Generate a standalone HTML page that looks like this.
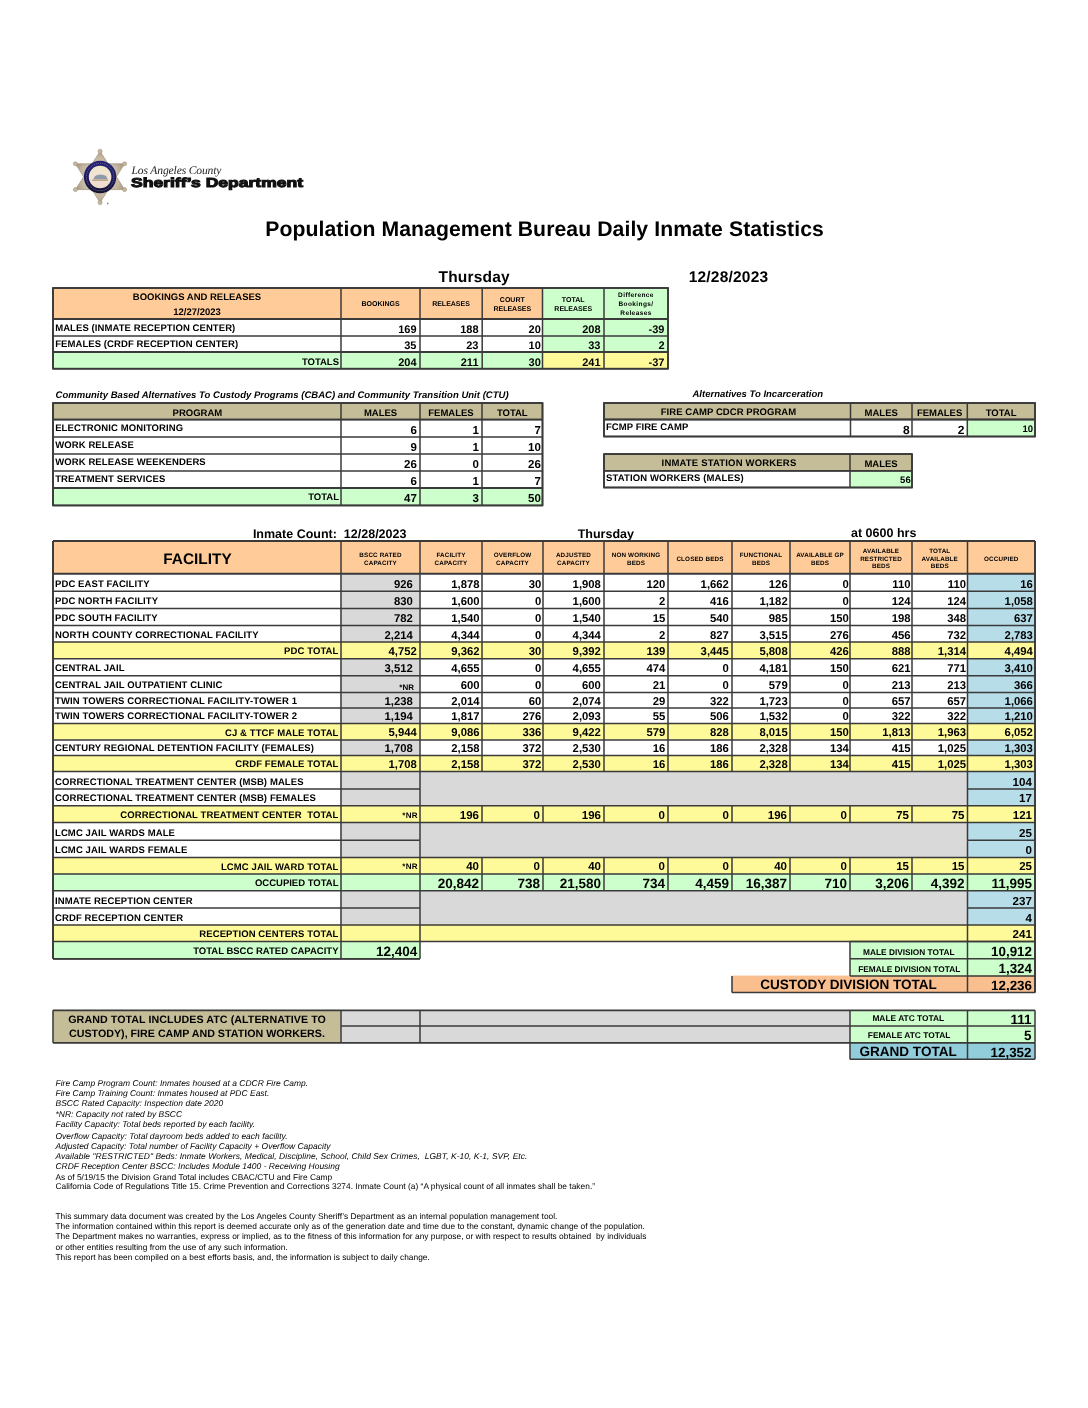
<!DOCTYPE html>
<html><head><meta charset="utf-8"><title>Population Management Bureau Daily Inmate Statistics</title>
<style>
html,body{margin:0;padding:0;background:#fff;}
body{width:1088px;height:1408px;overflow:hidden;font-family:"Liberation Sans", sans-serif;}
svg{display:block;will-change:transform;}
</style></head><body>
<svg width="1088" height="1408" viewBox="0 0 1088 1408" text-rendering="geometricPrecision">
<defs><radialGradient id="sg" cx="50%" cy="50%" r="55%"><stop offset="0" stop-color="#ddd3c1"/><stop offset="0.7" stop-color="#c5b8a2"/><stop offset="1" stop-color="#a3937c"/></radialGradient><linearGradient id="rg" x1="0" y1="0" x2="0" y2="1"><stop offset="0" stop-color="#27237a"/><stop offset="0.55" stop-color="#1d1a5c"/><stop offset="1" stop-color="#15132e"/></linearGradient><linearGradient id="dg" x1="0" y1="0" x2="0" y2="1"><stop offset="0" stop-color="#efe6c8"/><stop offset="0.5" stop-color="#f2e3d6"/><stop offset="1" stop-color="#f0d9cc"/></linearGradient></defs>
<polygon points="100.10,151.30 92.04,163.80 75.40,163.80 83.67,176.78 75.40,189.60 91.82,189.60 100.10,202.60 108.31,189.60 124.60,189.60 116.40,176.78 124.60,163.80 108.10,163.80" fill="url(#sg)" stroke="#a3937a" stroke-width="0.7" stroke-linejoin="round"/>
<circle cx="100.10" cy="151.30" r="2.1" fill="#c4b79f" stroke="#9d8f77" stroke-width="0.5"/>
<circle cx="124.60" cy="163.80" r="2.1" fill="#c4b79f" stroke="#9d8f77" stroke-width="0.5"/>
<circle cx="124.60" cy="189.60" r="2.1" fill="#c4b79f" stroke="#9d8f77" stroke-width="0.5"/>
<circle cx="100.10" cy="202.60" r="2.1" fill="#c4b79f" stroke="#9d8f77" stroke-width="0.5"/>
<circle cx="75.40" cy="189.60" r="2.1" fill="#c4b79f" stroke="#9d8f77" stroke-width="0.5"/>
<circle cx="75.40" cy="163.80" r="2.1" fill="#c4b79f" stroke="#9d8f77" stroke-width="0.5"/>
<circle cx="100.1" cy="177.0" r="16.2" fill="url(#rg)"/>
<circle cx="100.1" cy="177.0" r="11.3" fill="url(#dg)"/>
<circle cx="100.1" cy="177.0" r="13.7" fill="none" stroke="#8f8aa8" stroke-width="0.8" stroke-dasharray="0.9 1.1"/>
<path d="M93.5 179.5 q0.5 -4 4 -4.5 q3 -1.2 6 0 q3 0.4 3.5 2.5 l0.5 2 z" fill="#8f9aa8"/>
<rect x="92" y="179.5" width="16" height="1.5" fill="#c2a788"/>
<circle cx="107.7" cy="203.4" r="0.9" fill="#8a8a8a"/>
<text x="131.50" y="173.60" font-size="11.6" font-weight="normal" font-style="italic" text-anchor="start" letter-spacing="-0.15" fill="#262626" font-family='"Liberation Serif", serif'>Los Angeles County</text>
<text x="131" y="187.2" font-size="13" font-weight="bold" fill="#111" stroke="#111" stroke-width="1.0" font-family='"Liberation Sans", sans-serif' textLength="172" lengthAdjust="spacingAndGlyphs">Sheriff’s Department</text>
<text x="544.60" y="235.70" font-size="21.2" font-weight="bold" text-anchor="middle" letter-spacing="0.08" fill="#000" font-family='"Liberation Sans", sans-serif'>Population Management Bureau Daily Inmate Statistics</text>
<text x="474.20" y="282.00" font-size="15.5" font-weight="bold" text-anchor="middle" letter-spacing="0.2" fill="#000" font-family='"Liberation Sans", sans-serif'>Thursday</text>
<text x="728.50" y="282.00" font-size="15.5" font-weight="bold" text-anchor="middle" letter-spacing="0.2" fill="#000" font-family='"Liberation Sans", sans-serif'>12/28/2023</text>
<rect x="52.60" y="287.60" width="490.30" height="31.80" fill="#FFCC99"/>
<rect x="542.10" y="287.60" width="126.30" height="31.80" fill="#CCFFCC"/>
<rect x="52.60" y="318.60" width="490.30" height="33.80" fill="#FFFFFF"/>
<rect x="542.10" y="318.60" width="126.30" height="33.80" fill="#CCFFCC"/>
<rect x="52.60" y="351.60" width="490.30" height="17.50" fill="#CCFFCC"/>
<rect x="542.10" y="351.60" width="126.30" height="17.50" fill="#FFFA99"/>
<line x1="53.00" y1="288.00" x2="668.00" y2="288.00" stroke="#3a3a3a" stroke-width="1.5"/>
<line x1="53.00" y1="319.00" x2="668.00" y2="319.00" stroke="#3a3a3a" stroke-width="1.5"/>
<line x1="53.00" y1="336.00" x2="668.00" y2="336.00" stroke="#3a3a3a" stroke-width="1.5"/>
<line x1="53.00" y1="352.00" x2="668.00" y2="352.00" stroke="#3a3a3a" stroke-width="1.5"/>
<line x1="53.00" y1="368.70" x2="668.00" y2="368.70" stroke="#3a3a3a" stroke-width="1.5"/>
<line x1="53.00" y1="288.00" x2="53.00" y2="368.70" stroke="#3a3a3a" stroke-width="1.5"/>
<line x1="341.00" y1="288.00" x2="341.00" y2="368.70" stroke="#3a3a3a" stroke-width="1.5"/>
<line x1="420.00" y1="288.00" x2="420.00" y2="368.70" stroke="#3a3a3a" stroke-width="1.5"/>
<line x1="482.20" y1="288.00" x2="482.20" y2="368.70" stroke="#3a3a3a" stroke-width="1.5"/>
<line x1="542.50" y1="288.00" x2="542.50" y2="368.70" stroke="#3a3a3a" stroke-width="1.5"/>
<line x1="604.00" y1="288.00" x2="604.00" y2="368.70" stroke="#3a3a3a" stroke-width="1.5"/>
<line x1="668.00" y1="288.00" x2="668.00" y2="368.70" stroke="#3a3a3a" stroke-width="1.5"/>
<rect x="53.00" y="288.00" width="615.00" height="80.70" fill="none" stroke="#3a3a3a" stroke-width="1.8"/>
<line x1="53.00" y1="319.00" x2="668.00" y2="319.00" stroke="#3a3a3a" stroke-width="1.8"/>
<line x1="53.00" y1="352.00" x2="668.00" y2="352.00" stroke="#3a3a3a" stroke-width="1.8"/>
<text x="197.00" y="299.70" font-size="9.5" font-weight="bold" text-anchor="middle" fill="#000" font-family='"Liberation Sans", sans-serif'>BOOKINGS AND RELEASES</text>
<text x="197.00" y="315.10" font-size="9.5" font-weight="bold" text-anchor="middle" fill="#000" font-family='"Liberation Sans", sans-serif'>12/27/2023</text>
<text x="380.50" y="305.80" font-size="7" font-weight="bold" text-anchor="middle" fill="#000" font-family='"Liberation Sans", sans-serif'>BOOKINGS</text>
<text x="451.00" y="305.80" font-size="7" font-weight="bold" text-anchor="middle" fill="#000" font-family='"Liberation Sans", sans-serif'>RELEASES</text>
<text x="512.30" y="301.50" font-size="7" font-weight="bold" text-anchor="middle" fill="#000" font-family='"Liberation Sans", sans-serif'>COURT</text>
<text x="512.30" y="311.00" font-size="7" font-weight="bold" text-anchor="middle" fill="#000" font-family='"Liberation Sans", sans-serif'>RELEASES</text>
<text x="573.20" y="301.50" font-size="7" font-weight="bold" text-anchor="middle" fill="#000" font-family='"Liberation Sans", sans-serif'>TOTAL</text>
<text x="573.20" y="311.00" font-size="7" font-weight="bold" text-anchor="middle" fill="#000" font-family='"Liberation Sans", sans-serif'>RELEASES</text>
<text x="636.00" y="296.70" font-size="6.5" font-weight="bold" text-anchor="middle" letter-spacing="0.4" fill="#000" font-family='"Liberation Sans", sans-serif'>Difference</text>
<text x="636.00" y="305.70" font-size="6.5" font-weight="bold" text-anchor="middle" letter-spacing="0.4" fill="#000" font-family='"Liberation Sans", sans-serif'>Bookings/</text>
<text x="636.00" y="315.20" font-size="6.5" font-weight="bold" text-anchor="middle" letter-spacing="0.4" fill="#000" font-family='"Liberation Sans", sans-serif'>Releases</text>
<text x="55.20" y="331.10" font-size="9.5" font-weight="bold" text-anchor="start" letter-spacing="0.08" fill="#000" font-family='"Liberation Sans", sans-serif'>MALES (INMATE RECEPTION CENTER)</text>
<text x="55.20" y="346.80" font-size="9.5" font-weight="bold" text-anchor="start" letter-spacing="0.08" fill="#000" font-family='"Liberation Sans", sans-serif'>FEMALES (CRDF RECEPTION CENTER)</text>
<text x="339.00" y="365.30" font-size="9.5" font-weight="bold" text-anchor="end" fill="#000" font-family='"Liberation Sans", sans-serif'>TOTALS</text>
<text x="416.50" y="333.30" font-size="11" font-weight="bold" text-anchor="end" fill="#000" font-family='"Liberation Sans", sans-serif'>169</text>
<text x="478.50" y="333.30" font-size="11" font-weight="bold" text-anchor="end" fill="#000" font-family='"Liberation Sans", sans-serif'>188</text>
<text x="540.80" y="333.30" font-size="11" font-weight="bold" text-anchor="end" fill="#000" font-family='"Liberation Sans", sans-serif'>20</text>
<text x="600.50" y="333.30" font-size="11" font-weight="bold" text-anchor="end" fill="#000" font-family='"Liberation Sans", sans-serif'>208</text>
<text x="664.50" y="333.30" font-size="11" font-weight="bold" text-anchor="end" fill="#000" font-family='"Liberation Sans", sans-serif'>-39</text>
<text x="416.50" y="348.60" font-size="11" font-weight="bold" text-anchor="end" fill="#000" font-family='"Liberation Sans", sans-serif'>35</text>
<text x="478.50" y="348.60" font-size="11" font-weight="bold" text-anchor="end" fill="#000" font-family='"Liberation Sans", sans-serif'>23</text>
<text x="540.80" y="348.60" font-size="11" font-weight="bold" text-anchor="end" fill="#000" font-family='"Liberation Sans", sans-serif'>10</text>
<text x="600.50" y="348.60" font-size="11" font-weight="bold" text-anchor="end" fill="#000" font-family='"Liberation Sans", sans-serif'>33</text>
<text x="664.50" y="348.60" font-size="11" font-weight="bold" text-anchor="end" fill="#000" font-family='"Liberation Sans", sans-serif'>2</text>
<text x="416.50" y="365.50" font-size="11" font-weight="bold" text-anchor="end" fill="#000" font-family='"Liberation Sans", sans-serif'>204</text>
<text x="478.50" y="365.50" font-size="11" font-weight="bold" text-anchor="end" fill="#000" font-family='"Liberation Sans", sans-serif'>211</text>
<text x="540.80" y="365.50" font-size="11" font-weight="bold" text-anchor="end" fill="#000" font-family='"Liberation Sans", sans-serif'>30</text>
<text x="600.50" y="365.50" font-size="11" font-weight="bold" text-anchor="end" fill="#000" font-family='"Liberation Sans", sans-serif'>241</text>
<text x="664.50" y="365.50" font-size="11" font-weight="bold" text-anchor="end" fill="#000" font-family='"Liberation Sans", sans-serif'>-37</text>
<text x="55.50" y="397.60" font-size="9.5" font-weight="bold" font-style="italic" text-anchor="start" letter-spacing="0.03" fill="#000" font-family='"Liberation Sans", sans-serif'>Community Based Alternatives To Custody Programs (CBAC) and Community Transition Unit (CTU)</text>
<rect x="52.60" y="402.60" width="490.30" height="17.40" fill="#C4BD97"/>
<rect x="52.60" y="419.20" width="490.30" height="69.20" fill="#FFFFFF"/>
<rect x="52.60" y="487.60" width="490.30" height="18.20" fill="#CCFFCC"/>
<line x1="53.00" y1="403.00" x2="542.50" y2="403.00" stroke="#3a3a3a" stroke-width="1.5"/>
<line x1="53.00" y1="419.60" x2="542.50" y2="419.60" stroke="#3a3a3a" stroke-width="1.5"/>
<line x1="53.00" y1="437.00" x2="542.50" y2="437.00" stroke="#3a3a3a" stroke-width="1.5"/>
<line x1="53.00" y1="454.10" x2="542.50" y2="454.10" stroke="#3a3a3a" stroke-width="1.5"/>
<line x1="53.00" y1="471.00" x2="542.50" y2="471.00" stroke="#3a3a3a" stroke-width="1.5"/>
<line x1="53.00" y1="488.00" x2="542.50" y2="488.00" stroke="#3a3a3a" stroke-width="1.5"/>
<line x1="53.00" y1="505.40" x2="542.50" y2="505.40" stroke="#3a3a3a" stroke-width="1.5"/>
<line x1="53.00" y1="403.00" x2="53.00" y2="505.40" stroke="#3a3a3a" stroke-width="1.5"/>
<line x1="341.00" y1="403.00" x2="341.00" y2="505.40" stroke="#3a3a3a" stroke-width="1.5"/>
<line x1="420.00" y1="403.00" x2="420.00" y2="505.40" stroke="#3a3a3a" stroke-width="1.5"/>
<line x1="482.00" y1="403.00" x2="482.00" y2="505.40" stroke="#3a3a3a" stroke-width="1.5"/>
<line x1="542.50" y1="403.00" x2="542.50" y2="505.40" stroke="#3a3a3a" stroke-width="1.5"/>
<rect x="53.00" y="403.00" width="489.50" height="102.40" fill="none" stroke="#3a3a3a" stroke-width="1.8"/>
<line x1="53.00" y1="419.60" x2="542.50" y2="419.60" stroke="#3a3a3a" stroke-width="1.8"/>
<line x1="53.00" y1="488.00" x2="542.50" y2="488.00" stroke="#3a3a3a" stroke-width="1.8"/>
<text x="197.40" y="415.60" font-size="9.5" font-weight="bold" text-anchor="middle" fill="#000" font-family='"Liberation Sans", sans-serif'>PROGRAM</text>
<text x="380.50" y="415.60" font-size="9.5" font-weight="bold" text-anchor="middle" fill="#000" font-family='"Liberation Sans", sans-serif'>MALES</text>
<text x="451.00" y="415.60" font-size="9.5" font-weight="bold" text-anchor="middle" fill="#000" font-family='"Liberation Sans", sans-serif'>FEMALES</text>
<text x="512.30" y="415.60" font-size="9.5" font-weight="bold" text-anchor="middle" fill="#000" font-family='"Liberation Sans", sans-serif'>TOTAL</text>
<text x="55.20" y="430.80" font-size="9.5" font-weight="bold" text-anchor="start" letter-spacing="0.1" fill="#000" font-family='"Liberation Sans", sans-serif'>ELECTRONIC MONITORING</text>
<text x="416.90" y="433.70" font-size="11.5" font-weight="bold" text-anchor="end" fill="#000" font-family='"Liberation Sans", sans-serif'>6</text>
<text x="478.90" y="433.70" font-size="11.5" font-weight="bold" text-anchor="end" fill="#000" font-family='"Liberation Sans", sans-serif'>1</text>
<text x="540.80" y="433.70" font-size="11.5" font-weight="bold" text-anchor="end" fill="#000" font-family='"Liberation Sans", sans-serif'>7</text>
<text x="55.20" y="448.20" font-size="9.5" font-weight="bold" text-anchor="start" letter-spacing="0.1" fill="#000" font-family='"Liberation Sans", sans-serif'>WORK RELEASE</text>
<text x="416.90" y="450.80" font-size="11.5" font-weight="bold" text-anchor="end" fill="#000" font-family='"Liberation Sans", sans-serif'>9</text>
<text x="478.90" y="450.80" font-size="11.5" font-weight="bold" text-anchor="end" fill="#000" font-family='"Liberation Sans", sans-serif'>1</text>
<text x="540.80" y="450.80" font-size="11.5" font-weight="bold" text-anchor="end" fill="#000" font-family='"Liberation Sans", sans-serif'>10</text>
<text x="55.20" y="465.30" font-size="9.5" font-weight="bold" text-anchor="start" letter-spacing="0.1" fill="#000" font-family='"Liberation Sans", sans-serif'>WORK RELEASE WEEKENDERS</text>
<text x="416.90" y="467.70" font-size="11.5" font-weight="bold" text-anchor="end" fill="#000" font-family='"Liberation Sans", sans-serif'>26</text>
<text x="478.90" y="467.70" font-size="11.5" font-weight="bold" text-anchor="end" fill="#000" font-family='"Liberation Sans", sans-serif'>0</text>
<text x="540.80" y="467.70" font-size="11.5" font-weight="bold" text-anchor="end" fill="#000" font-family='"Liberation Sans", sans-serif'>26</text>
<text x="55.20" y="482.20" font-size="9.5" font-weight="bold" text-anchor="start" letter-spacing="0.1" fill="#000" font-family='"Liberation Sans", sans-serif'>TREATMENT SERVICES</text>
<text x="416.90" y="484.70" font-size="11.5" font-weight="bold" text-anchor="end" fill="#000" font-family='"Liberation Sans", sans-serif'>6</text>
<text x="478.90" y="484.70" font-size="11.5" font-weight="bold" text-anchor="end" fill="#000" font-family='"Liberation Sans", sans-serif'>1</text>
<text x="540.80" y="484.70" font-size="11.5" font-weight="bold" text-anchor="end" fill="#000" font-family='"Liberation Sans", sans-serif'>7</text>
<text x="339.00" y="499.70" font-size="9.5" font-weight="bold" text-anchor="end" fill="#000" font-family='"Liberation Sans", sans-serif'>TOTAL</text>
<text x="416.90" y="502.00" font-size="11.5" font-weight="bold" text-anchor="end" fill="#000" font-family='"Liberation Sans", sans-serif'>47</text>
<text x="478.90" y="502.00" font-size="11.5" font-weight="bold" text-anchor="end" fill="#000" font-family='"Liberation Sans", sans-serif'>3</text>
<text x="540.80" y="502.00" font-size="11.5" font-weight="bold" text-anchor="end" fill="#000" font-family='"Liberation Sans", sans-serif'>50</text>
<text x="757.80" y="396.50" font-size="9.5" font-weight="bold" font-style="italic" text-anchor="middle" fill="#000" font-family='"Liberation Sans", sans-serif'>Alternatives To Incarceration</text>
<rect x="603.60" y="402.60" width="431.80" height="17.30" fill="#C4BD97"/>
<rect x="603.60" y="419.10" width="364.10" height="17.80" fill="#FFFFFF"/>
<rect x="966.90" y="419.10" width="68.50" height="17.80" fill="#CCFFCC"/>
<line x1="604.00" y1="403.00" x2="1035.00" y2="403.00" stroke="#3a3a3a" stroke-width="1.5"/>
<line x1="604.00" y1="419.50" x2="1035.00" y2="419.50" stroke="#3a3a3a" stroke-width="1.5"/>
<line x1="604.00" y1="436.50" x2="1035.00" y2="436.50" stroke="#3a3a3a" stroke-width="1.5"/>
<line x1="604.00" y1="403.00" x2="604.00" y2="436.50" stroke="#3a3a3a" stroke-width="1.5"/>
<line x1="850.50" y1="403.00" x2="850.50" y2="436.50" stroke="#3a3a3a" stroke-width="1.5"/>
<line x1="912.00" y1="403.00" x2="912.00" y2="436.50" stroke="#3a3a3a" stroke-width="1.5"/>
<line x1="967.30" y1="403.00" x2="967.30" y2="436.50" stroke="#3a3a3a" stroke-width="1.5"/>
<line x1="1035.00" y1="403.00" x2="1035.00" y2="436.50" stroke="#3a3a3a" stroke-width="1.5"/>
<rect x="604.00" y="403.00" width="431.00" height="33.50" fill="none" stroke="#3a3a3a" stroke-width="1.8"/>
<line x1="604.00" y1="419.50" x2="1035.00" y2="419.50" stroke="#3a3a3a" stroke-width="1.8"/>
<text x="728.50" y="414.90" font-size="9.5" font-weight="bold" text-anchor="middle" letter-spacing="0.05" fill="#000" font-family='"Liberation Sans", sans-serif'>FIRE CAMP CDCR PROGRAM</text>
<text x="881.20" y="415.50" font-size="9.5" font-weight="bold" text-anchor="middle" fill="#000" font-family='"Liberation Sans", sans-serif'>MALES</text>
<text x="939.60" y="415.50" font-size="9.5" font-weight="bold" text-anchor="middle" fill="#000" font-family='"Liberation Sans", sans-serif'>FEMALES</text>
<text x="1001.10" y="415.50" font-size="9.5" font-weight="bold" text-anchor="middle" fill="#000" font-family='"Liberation Sans", sans-serif'>TOTAL</text>
<text x="606.00" y="430.40" font-size="9.5" font-weight="bold" text-anchor="start" letter-spacing="0.05" fill="#000" font-family='"Liberation Sans", sans-serif'>FCMP FIRE CAMP</text>
<text x="909.80" y="433.80" font-size="12" font-weight="bold" text-anchor="end" fill="#000" font-family='"Liberation Sans", sans-serif'>8</text>
<text x="964.50" y="433.80" font-size="12" font-weight="bold" text-anchor="end" fill="#000" font-family='"Liberation Sans", sans-serif'>2</text>
<text x="1033.00" y="431.80" font-size="9.5" font-weight="bold" text-anchor="end" fill="#000" font-family='"Liberation Sans", sans-serif'>10</text>
<rect x="603.60" y="453.70" width="308.80" height="17.50" fill="#C4BD97"/>
<rect x="603.60" y="470.40" width="246.80" height="17.50" fill="#FFFFFF"/>
<rect x="849.60" y="470.40" width="62.80" height="17.50" fill="#CCFFCC"/>
<line x1="604.00" y1="454.10" x2="912.00" y2="454.10" stroke="#3a3a3a" stroke-width="1.5"/>
<line x1="604.00" y1="470.80" x2="912.00" y2="470.80" stroke="#3a3a3a" stroke-width="1.5"/>
<line x1="604.00" y1="487.50" x2="912.00" y2="487.50" stroke="#3a3a3a" stroke-width="1.5"/>
<line x1="604.00" y1="454.10" x2="604.00" y2="487.50" stroke="#3a3a3a" stroke-width="1.5"/>
<line x1="850.00" y1="454.10" x2="850.00" y2="487.50" stroke="#3a3a3a" stroke-width="1.5"/>
<line x1="912.00" y1="454.10" x2="912.00" y2="487.50" stroke="#3a3a3a" stroke-width="1.5"/>
<rect x="604.00" y="454.10" width="308.00" height="33.40" fill="none" stroke="#3a3a3a" stroke-width="1.8"/>
<line x1="604.00" y1="470.80" x2="912.00" y2="470.80" stroke="#3a3a3a" stroke-width="1.8"/>
<text x="729.00" y="465.60" font-size="9.5" font-weight="bold" text-anchor="middle" letter-spacing="0.18" fill="#000" font-family='"Liberation Sans", sans-serif'>INMATE STATION WORKERS</text>
<text x="881.00" y="466.80" font-size="9.5" font-weight="bold" text-anchor="middle" fill="#000" font-family='"Liberation Sans", sans-serif'>MALES</text>
<text x="606.00" y="481.40" font-size="9.5" font-weight="bold" text-anchor="start" letter-spacing="0.13" fill="#000" font-family='"Liberation Sans", sans-serif'>STATION WORKERS (MALES)</text>
<text x="910.70" y="482.80" font-size="9.5" font-weight="bold" text-anchor="end" fill="#000" font-family='"Liberation Sans", sans-serif'>56</text>
<text x="252.90" y="537.60" font-size="12.5" font-weight="bold" text-anchor="start" fill="#000" font-family='"Liberation Sans", sans-serif' xml:space="preserve">Inmate Count:  12/28/2023</text>
<text x="605.80" y="537.60" font-size="12.5" font-weight="bold" text-anchor="middle" fill="#000" font-family='"Liberation Sans", sans-serif'>Thursday</text>
<text x="883.70" y="537.40" font-size="12.5" font-weight="bold" text-anchor="middle" fill="#000" font-family='"Liberation Sans", sans-serif'>at 0600 hrs</text>
<rect x="52.60" y="540.60" width="982.80" height="33.50" fill="#FFCC99"/>
<text x="197.50" y="564.40" font-size="15.4" font-weight="bold" text-anchor="middle" fill="#000" font-family='"Liberation Sans", sans-serif'>FACILITY</text>
<text x="380.50" y="556.60" font-size="6.3" font-weight="bold" text-anchor="middle" letter-spacing="0.15" fill="#000" font-family='"Liberation Sans", sans-serif'>BSCC RATED</text>
<text x="380.50" y="564.60" font-size="6.3" font-weight="bold" text-anchor="middle" letter-spacing="0.15" fill="#000" font-family='"Liberation Sans", sans-serif'>CAPACITY</text>
<text x="451.00" y="556.60" font-size="6.3" font-weight="bold" text-anchor="middle" letter-spacing="0.15" fill="#000" font-family='"Liberation Sans", sans-serif'>FACILITY</text>
<text x="451.00" y="564.60" font-size="6.3" font-weight="bold" text-anchor="middle" letter-spacing="0.15" fill="#000" font-family='"Liberation Sans", sans-serif'>CAPACITY</text>
<text x="512.50" y="556.60" font-size="6.3" font-weight="bold" text-anchor="middle" letter-spacing="0.15" fill="#000" font-family='"Liberation Sans", sans-serif'>OVERFLOW</text>
<text x="512.50" y="564.60" font-size="6.3" font-weight="bold" text-anchor="middle" letter-spacing="0.15" fill="#000" font-family='"Liberation Sans", sans-serif'>CAPACITY</text>
<text x="573.50" y="556.60" font-size="6.3" font-weight="bold" text-anchor="middle" letter-spacing="0.15" fill="#000" font-family='"Liberation Sans", sans-serif'>ADJUSTED</text>
<text x="573.50" y="564.60" font-size="6.3" font-weight="bold" text-anchor="middle" letter-spacing="0.15" fill="#000" font-family='"Liberation Sans", sans-serif'>CAPACITY</text>
<text x="636.00" y="556.60" font-size="6.3" font-weight="bold" text-anchor="middle" letter-spacing="0.15" fill="#000" font-family='"Liberation Sans", sans-serif'>NON WORKING</text>
<text x="636.00" y="564.60" font-size="6.3" font-weight="bold" text-anchor="middle" letter-spacing="0.15" fill="#000" font-family='"Liberation Sans", sans-serif'>BEDS</text>
<text x="700.00" y="560.60" font-size="6.3" font-weight="bold" text-anchor="middle" letter-spacing="0.15" fill="#000" font-family='"Liberation Sans", sans-serif'>CLOSED BEDS</text>
<text x="761.00" y="556.60" font-size="6.3" font-weight="bold" text-anchor="middle" letter-spacing="0.15" fill="#000" font-family='"Liberation Sans", sans-serif'>FUNCTIONAL</text>
<text x="761.00" y="564.60" font-size="6.3" font-weight="bold" text-anchor="middle" letter-spacing="0.15" fill="#000" font-family='"Liberation Sans", sans-serif'>BEDS</text>
<text x="820.00" y="556.60" font-size="6.3" font-weight="bold" text-anchor="middle" letter-spacing="0.15" fill="#000" font-family='"Liberation Sans", sans-serif'>AVAILABLE GP</text>
<text x="820.00" y="564.60" font-size="6.3" font-weight="bold" text-anchor="middle" letter-spacing="0.15" fill="#000" font-family='"Liberation Sans", sans-serif'>BEDS</text>
<text x="881.00" y="552.50" font-size="6.3" font-weight="bold" text-anchor="middle" letter-spacing="0.15" fill="#000" font-family='"Liberation Sans", sans-serif'>AVAILABLE</text>
<text x="881.00" y="560.60" font-size="6.3" font-weight="bold" text-anchor="middle" letter-spacing="0.15" fill="#000" font-family='"Liberation Sans", sans-serif'>RESTRICTED</text>
<text x="881.00" y="568.40" font-size="6.3" font-weight="bold" text-anchor="middle" letter-spacing="0.15" fill="#000" font-family='"Liberation Sans", sans-serif'>BEDS</text>
<text x="939.75" y="552.50" font-size="6.3" font-weight="bold" text-anchor="middle" letter-spacing="0.15" fill="#000" font-family='"Liberation Sans", sans-serif'>TOTAL</text>
<text x="939.75" y="560.60" font-size="6.3" font-weight="bold" text-anchor="middle" letter-spacing="0.15" fill="#000" font-family='"Liberation Sans", sans-serif'>AVAILABLE</text>
<text x="939.75" y="568.40" font-size="6.3" font-weight="bold" text-anchor="middle" letter-spacing="0.15" fill="#000" font-family='"Liberation Sans", sans-serif'>BEDS</text>
<text x="1001.25" y="560.60" font-size="6.3" font-weight="bold" text-anchor="middle" letter-spacing="0.15" fill="#000" font-family='"Liberation Sans", sans-serif'>OCCUPIED</text>
<rect x="52.60" y="573.30" width="288.80" height="18.30" fill="#FFFFFF"/>
<rect x="340.60" y="573.30" width="79.80" height="18.30" fill="#D9D9D9"/>
<rect x="419.60" y="573.30" width="548.30" height="18.30" fill="#FFFFFF"/>
<rect x="967.10" y="573.30" width="68.30" height="18.30" fill="#B7DDE8"/>
<text x="55.00" y="586.80" font-size="9.5" font-weight="bold" text-anchor="start" letter-spacing="0.1" fill="#000" font-family='"Liberation Sans", sans-serif'>PDC EAST FACILITY</text>
<text x="412.80" y="587.70" font-size="11.3" font-weight="bold" text-anchor="end" fill="#000" font-family='"Liberation Sans", sans-serif'>926</text>
<text x="479.60" y="587.70" font-size="11.3" font-weight="bold" text-anchor="end" fill="#000" font-family='"Liberation Sans", sans-serif'>1,878</text>
<text x="541.30" y="587.70" font-size="11.3" font-weight="bold" text-anchor="end" fill="#000" font-family='"Liberation Sans", sans-serif'>30</text>
<text x="600.90" y="587.70" font-size="11.3" font-weight="bold" text-anchor="end" fill="#000" font-family='"Liberation Sans", sans-serif'>1,908</text>
<text x="665.40" y="587.70" font-size="11.3" font-weight="bold" text-anchor="end" fill="#000" font-family='"Liberation Sans", sans-serif'>120</text>
<text x="728.90" y="587.70" font-size="11.3" font-weight="bold" text-anchor="end" fill="#000" font-family='"Liberation Sans", sans-serif'>1,662</text>
<text x="787.70" y="587.70" font-size="11.3" font-weight="bold" text-anchor="end" fill="#000" font-family='"Liberation Sans", sans-serif'>126</text>
<text x="848.80" y="587.70" font-size="11.3" font-weight="bold" text-anchor="end" fill="#000" font-family='"Liberation Sans", sans-serif'>0</text>
<text x="910.60" y="587.70" font-size="11.3" font-weight="bold" text-anchor="end" fill="#000" font-family='"Liberation Sans", sans-serif'>110</text>
<text x="966.00" y="587.70" font-size="11.3" font-weight="bold" text-anchor="end" fill="#000" font-family='"Liberation Sans", sans-serif'>110</text>
<text x="1032.90" y="587.70" font-size="11.3" font-weight="bold" text-anchor="end" fill="#000" font-family='"Liberation Sans", sans-serif'>16</text>
<rect x="52.60" y="590.80" width="288.80" height="18.10" fill="#FFFFFF"/>
<rect x="340.60" y="590.80" width="79.80" height="18.10" fill="#D9D9D9"/>
<rect x="419.60" y="590.80" width="548.30" height="18.10" fill="#FFFFFF"/>
<rect x="967.10" y="590.80" width="68.30" height="18.10" fill="#B7DDE8"/>
<text x="55.00" y="604.10" font-size="9.5" font-weight="bold" text-anchor="start" letter-spacing="0.1" fill="#000" font-family='"Liberation Sans", sans-serif'>PDC NORTH FACILITY</text>
<text x="412.80" y="605.00" font-size="11.3" font-weight="bold" text-anchor="end" fill="#000" font-family='"Liberation Sans", sans-serif'>830</text>
<text x="479.60" y="605.00" font-size="11.3" font-weight="bold" text-anchor="end" fill="#000" font-family='"Liberation Sans", sans-serif'>1,600</text>
<text x="541.30" y="605.00" font-size="11.3" font-weight="bold" text-anchor="end" fill="#000" font-family='"Liberation Sans", sans-serif'>0</text>
<text x="600.90" y="605.00" font-size="11.3" font-weight="bold" text-anchor="end" fill="#000" font-family='"Liberation Sans", sans-serif'>1,600</text>
<text x="665.40" y="605.00" font-size="11.3" font-weight="bold" text-anchor="end" fill="#000" font-family='"Liberation Sans", sans-serif'>2</text>
<text x="728.90" y="605.00" font-size="11.3" font-weight="bold" text-anchor="end" fill="#000" font-family='"Liberation Sans", sans-serif'>416</text>
<text x="787.70" y="605.00" font-size="11.3" font-weight="bold" text-anchor="end" fill="#000" font-family='"Liberation Sans", sans-serif'>1,182</text>
<text x="848.80" y="605.00" font-size="11.3" font-weight="bold" text-anchor="end" fill="#000" font-family='"Liberation Sans", sans-serif'>0</text>
<text x="910.60" y="605.00" font-size="11.3" font-weight="bold" text-anchor="end" fill="#000" font-family='"Liberation Sans", sans-serif'>124</text>
<text x="966.00" y="605.00" font-size="11.3" font-weight="bold" text-anchor="end" fill="#000" font-family='"Liberation Sans", sans-serif'>124</text>
<text x="1032.90" y="605.00" font-size="11.3" font-weight="bold" text-anchor="end" fill="#000" font-family='"Liberation Sans", sans-serif'>1,058</text>
<rect x="52.60" y="608.10" width="288.80" height="17.70" fill="#FFFFFF"/>
<rect x="340.60" y="608.10" width="79.80" height="17.70" fill="#D9D9D9"/>
<rect x="419.60" y="608.10" width="548.30" height="17.70" fill="#FFFFFF"/>
<rect x="967.10" y="608.10" width="68.30" height="17.70" fill="#B7DDE8"/>
<text x="55.00" y="621.00" font-size="9.5" font-weight="bold" text-anchor="start" letter-spacing="0.1" fill="#000" font-family='"Liberation Sans", sans-serif'>PDC SOUTH FACILITY</text>
<text x="412.80" y="621.90" font-size="11.3" font-weight="bold" text-anchor="end" fill="#000" font-family='"Liberation Sans", sans-serif'>782</text>
<text x="479.60" y="621.90" font-size="11.3" font-weight="bold" text-anchor="end" fill="#000" font-family='"Liberation Sans", sans-serif'>1,540</text>
<text x="541.30" y="621.90" font-size="11.3" font-weight="bold" text-anchor="end" fill="#000" font-family='"Liberation Sans", sans-serif'>0</text>
<text x="600.90" y="621.90" font-size="11.3" font-weight="bold" text-anchor="end" fill="#000" font-family='"Liberation Sans", sans-serif'>1,540</text>
<text x="665.40" y="621.90" font-size="11.3" font-weight="bold" text-anchor="end" fill="#000" font-family='"Liberation Sans", sans-serif'>15</text>
<text x="728.90" y="621.90" font-size="11.3" font-weight="bold" text-anchor="end" fill="#000" font-family='"Liberation Sans", sans-serif'>540</text>
<text x="787.70" y="621.90" font-size="11.3" font-weight="bold" text-anchor="end" fill="#000" font-family='"Liberation Sans", sans-serif'>985</text>
<text x="848.80" y="621.90" font-size="11.3" font-weight="bold" text-anchor="end" fill="#000" font-family='"Liberation Sans", sans-serif'>150</text>
<text x="910.60" y="621.90" font-size="11.3" font-weight="bold" text-anchor="end" fill="#000" font-family='"Liberation Sans", sans-serif'>198</text>
<text x="966.00" y="621.90" font-size="11.3" font-weight="bold" text-anchor="end" fill="#000" font-family='"Liberation Sans", sans-serif'>348</text>
<text x="1032.90" y="621.90" font-size="11.3" font-weight="bold" text-anchor="end" fill="#000" font-family='"Liberation Sans", sans-serif'>637</text>
<rect x="52.60" y="625.00" width="288.80" height="17.40" fill="#FFFFFF"/>
<rect x="340.60" y="625.00" width="79.80" height="17.40" fill="#D9D9D9"/>
<rect x="419.60" y="625.00" width="548.30" height="17.40" fill="#FFFFFF"/>
<rect x="967.10" y="625.00" width="68.30" height="17.40" fill="#B7DDE8"/>
<text x="55.00" y="637.60" font-size="9.5" font-weight="bold" text-anchor="start" letter-spacing="0.1" fill="#000" font-family='"Liberation Sans", sans-serif'>NORTH COUNTY CORRECTIONAL FACILITY</text>
<text x="412.80" y="638.50" font-size="11.3" font-weight="bold" text-anchor="end" fill="#000" font-family='"Liberation Sans", sans-serif'>2,214</text>
<text x="479.60" y="638.50" font-size="11.3" font-weight="bold" text-anchor="end" fill="#000" font-family='"Liberation Sans", sans-serif'>4,344</text>
<text x="541.30" y="638.50" font-size="11.3" font-weight="bold" text-anchor="end" fill="#000" font-family='"Liberation Sans", sans-serif'>0</text>
<text x="600.90" y="638.50" font-size="11.3" font-weight="bold" text-anchor="end" fill="#000" font-family='"Liberation Sans", sans-serif'>4,344</text>
<text x="665.40" y="638.50" font-size="11.3" font-weight="bold" text-anchor="end" fill="#000" font-family='"Liberation Sans", sans-serif'>2</text>
<text x="728.90" y="638.50" font-size="11.3" font-weight="bold" text-anchor="end" fill="#000" font-family='"Liberation Sans", sans-serif'>827</text>
<text x="787.70" y="638.50" font-size="11.3" font-weight="bold" text-anchor="end" fill="#000" font-family='"Liberation Sans", sans-serif'>3,515</text>
<text x="848.80" y="638.50" font-size="11.3" font-weight="bold" text-anchor="end" fill="#000" font-family='"Liberation Sans", sans-serif'>276</text>
<text x="910.60" y="638.50" font-size="11.3" font-weight="bold" text-anchor="end" fill="#000" font-family='"Liberation Sans", sans-serif'>456</text>
<text x="966.00" y="638.50" font-size="11.3" font-weight="bold" text-anchor="end" fill="#000" font-family='"Liberation Sans", sans-serif'>732</text>
<text x="1032.90" y="638.50" font-size="11.3" font-weight="bold" text-anchor="end" fill="#000" font-family='"Liberation Sans", sans-serif'>2,783</text>
<rect x="52.60" y="641.60" width="982.80" height="17.60" fill="#FFFA99"/>
<text x="338.50" y="654.40" font-size="9.5" font-weight="bold" text-anchor="end" letter-spacing="0.1" fill="#000" font-family='"Liberation Sans", sans-serif' xml:space="preserve">PDC TOTAL</text>
<text x="416.80" y="655.00" font-size="11.3" font-weight="bold" text-anchor="end" fill="#000" font-family='"Liberation Sans", sans-serif'>4,752</text>
<text x="479.60" y="655.00" font-size="11.3" font-weight="bold" text-anchor="end" fill="#000" font-family='"Liberation Sans", sans-serif'>9,362</text>
<text x="541.30" y="655.00" font-size="11.3" font-weight="bold" text-anchor="end" fill="#000" font-family='"Liberation Sans", sans-serif'>30</text>
<text x="600.90" y="655.00" font-size="11.3" font-weight="bold" text-anchor="end" fill="#000" font-family='"Liberation Sans", sans-serif'>9,392</text>
<text x="665.40" y="655.00" font-size="11.3" font-weight="bold" text-anchor="end" fill="#000" font-family='"Liberation Sans", sans-serif'>139</text>
<text x="728.90" y="655.00" font-size="11.3" font-weight="bold" text-anchor="end" fill="#000" font-family='"Liberation Sans", sans-serif'>3,445</text>
<text x="787.70" y="655.00" font-size="11.3" font-weight="bold" text-anchor="end" fill="#000" font-family='"Liberation Sans", sans-serif'>5,808</text>
<text x="848.80" y="655.00" font-size="11.3" font-weight="bold" text-anchor="end" fill="#000" font-family='"Liberation Sans", sans-serif'>426</text>
<text x="910.60" y="655.00" font-size="11.3" font-weight="bold" text-anchor="end" fill="#000" font-family='"Liberation Sans", sans-serif'>888</text>
<text x="966.00" y="655.00" font-size="11.3" font-weight="bold" text-anchor="end" fill="#000" font-family='"Liberation Sans", sans-serif'>1,314</text>
<text x="1032.90" y="655.00" font-size="11.3" font-weight="bold" text-anchor="end" fill="#000" font-family='"Liberation Sans", sans-serif'>4,494</text>
<rect x="52.60" y="658.40" width="288.80" height="17.70" fill="#FFFFFF"/>
<rect x="340.60" y="658.40" width="79.80" height="17.70" fill="#D9D9D9"/>
<rect x="419.60" y="658.40" width="548.30" height="17.70" fill="#FFFFFF"/>
<rect x="967.10" y="658.40" width="68.30" height="17.70" fill="#B7DDE8"/>
<text x="55.00" y="671.30" font-size="9.5" font-weight="bold" text-anchor="start" letter-spacing="0.1" fill="#000" font-family='"Liberation Sans", sans-serif'>CENTRAL JAIL</text>
<text x="412.80" y="672.20" font-size="11.3" font-weight="bold" text-anchor="end" fill="#000" font-family='"Liberation Sans", sans-serif'>3,512</text>
<text x="479.60" y="672.20" font-size="11.3" font-weight="bold" text-anchor="end" fill="#000" font-family='"Liberation Sans", sans-serif'>4,655</text>
<text x="541.30" y="672.20" font-size="11.3" font-weight="bold" text-anchor="end" fill="#000" font-family='"Liberation Sans", sans-serif'>0</text>
<text x="600.90" y="672.20" font-size="11.3" font-weight="bold" text-anchor="end" fill="#000" font-family='"Liberation Sans", sans-serif'>4,655</text>
<text x="665.40" y="672.20" font-size="11.3" font-weight="bold" text-anchor="end" fill="#000" font-family='"Liberation Sans", sans-serif'>474</text>
<text x="728.90" y="672.20" font-size="11.3" font-weight="bold" text-anchor="end" fill="#000" font-family='"Liberation Sans", sans-serif'>0</text>
<text x="787.70" y="672.20" font-size="11.3" font-weight="bold" text-anchor="end" fill="#000" font-family='"Liberation Sans", sans-serif'>4,181</text>
<text x="848.80" y="672.20" font-size="11.3" font-weight="bold" text-anchor="end" fill="#000" font-family='"Liberation Sans", sans-serif'>150</text>
<text x="910.60" y="672.20" font-size="11.3" font-weight="bold" text-anchor="end" fill="#000" font-family='"Liberation Sans", sans-serif'>621</text>
<text x="966.00" y="672.20" font-size="11.3" font-weight="bold" text-anchor="end" fill="#000" font-family='"Liberation Sans", sans-serif'>771</text>
<text x="1032.90" y="672.20" font-size="11.3" font-weight="bold" text-anchor="end" fill="#000" font-family='"Liberation Sans", sans-serif'>3,410</text>
<rect x="52.60" y="675.30" width="288.80" height="17.70" fill="#FFFFFF"/>
<rect x="340.60" y="675.30" width="79.80" height="17.70" fill="#D9D9D9"/>
<rect x="419.60" y="675.30" width="548.30" height="17.70" fill="#FFFFFF"/>
<rect x="967.10" y="675.30" width="68.30" height="17.70" fill="#B7DDE8"/>
<text x="55.00" y="688.20" font-size="9.5" font-weight="bold" text-anchor="start" letter-spacing="0.1" fill="#000" font-family='"Liberation Sans", sans-serif'>CENTRAL JAIL OUTPATIENT CLINIC</text>
<text x="414.00" y="689.80" font-size="8" font-weight="bold" text-anchor="end" fill="#000" font-family='"Liberation Sans", sans-serif'>*NR</text>
<text x="479.60" y="689.10" font-size="11.3" font-weight="bold" text-anchor="end" fill="#000" font-family='"Liberation Sans", sans-serif'>600</text>
<text x="541.30" y="689.10" font-size="11.3" font-weight="bold" text-anchor="end" fill="#000" font-family='"Liberation Sans", sans-serif'>0</text>
<text x="600.90" y="689.10" font-size="11.3" font-weight="bold" text-anchor="end" fill="#000" font-family='"Liberation Sans", sans-serif'>600</text>
<text x="665.40" y="689.10" font-size="11.3" font-weight="bold" text-anchor="end" fill="#000" font-family='"Liberation Sans", sans-serif'>21</text>
<text x="728.90" y="689.10" font-size="11.3" font-weight="bold" text-anchor="end" fill="#000" font-family='"Liberation Sans", sans-serif'>0</text>
<text x="787.70" y="689.10" font-size="11.3" font-weight="bold" text-anchor="end" fill="#000" font-family='"Liberation Sans", sans-serif'>579</text>
<text x="848.80" y="689.10" font-size="11.3" font-weight="bold" text-anchor="end" fill="#000" font-family='"Liberation Sans", sans-serif'>0</text>
<text x="910.60" y="689.10" font-size="11.3" font-weight="bold" text-anchor="end" fill="#000" font-family='"Liberation Sans", sans-serif'>213</text>
<text x="966.00" y="689.10" font-size="11.3" font-weight="bold" text-anchor="end" fill="#000" font-family='"Liberation Sans", sans-serif'>213</text>
<text x="1032.90" y="689.10" font-size="11.3" font-weight="bold" text-anchor="end" fill="#000" font-family='"Liberation Sans", sans-serif'>366</text>
<rect x="52.60" y="692.20" width="288.80" height="16.30" fill="#FFFFFF"/>
<rect x="340.60" y="692.20" width="79.80" height="16.30" fill="#D9D9D9"/>
<rect x="419.60" y="692.20" width="548.30" height="16.30" fill="#FFFFFF"/>
<rect x="967.10" y="692.20" width="68.30" height="16.30" fill="#B7DDE8"/>
<text x="55.00" y="703.70" font-size="9.5" font-weight="bold" text-anchor="start" letter-spacing="0.1" fill="#000" font-family='"Liberation Sans", sans-serif'>TWIN TOWERS CORRECTIONAL FACILITY-TOWER 1</text>
<text x="412.80" y="704.60" font-size="11.3" font-weight="bold" text-anchor="end" fill="#000" font-family='"Liberation Sans", sans-serif'>1,238</text>
<text x="479.60" y="704.60" font-size="11.3" font-weight="bold" text-anchor="end" fill="#000" font-family='"Liberation Sans", sans-serif'>2,014</text>
<text x="541.30" y="704.60" font-size="11.3" font-weight="bold" text-anchor="end" fill="#000" font-family='"Liberation Sans", sans-serif'>60</text>
<text x="600.90" y="704.60" font-size="11.3" font-weight="bold" text-anchor="end" fill="#000" font-family='"Liberation Sans", sans-serif'>2,074</text>
<text x="665.40" y="704.60" font-size="11.3" font-weight="bold" text-anchor="end" fill="#000" font-family='"Liberation Sans", sans-serif'>29</text>
<text x="728.90" y="704.60" font-size="11.3" font-weight="bold" text-anchor="end" fill="#000" font-family='"Liberation Sans", sans-serif'>322</text>
<text x="787.70" y="704.60" font-size="11.3" font-weight="bold" text-anchor="end" fill="#000" font-family='"Liberation Sans", sans-serif'>1,723</text>
<text x="848.80" y="704.60" font-size="11.3" font-weight="bold" text-anchor="end" fill="#000" font-family='"Liberation Sans", sans-serif'>0</text>
<text x="910.60" y="704.60" font-size="11.3" font-weight="bold" text-anchor="end" fill="#000" font-family='"Liberation Sans", sans-serif'>657</text>
<text x="966.00" y="704.60" font-size="11.3" font-weight="bold" text-anchor="end" fill="#000" font-family='"Liberation Sans", sans-serif'>657</text>
<text x="1032.90" y="704.60" font-size="11.3" font-weight="bold" text-anchor="end" fill="#000" font-family='"Liberation Sans", sans-serif'>1,066</text>
<rect x="52.60" y="707.70" width="288.80" height="16.20" fill="#FFFFFF"/>
<rect x="340.60" y="707.70" width="79.80" height="16.20" fill="#D9D9D9"/>
<rect x="419.60" y="707.70" width="548.30" height="16.20" fill="#FFFFFF"/>
<rect x="967.10" y="707.70" width="68.30" height="16.20" fill="#B7DDE8"/>
<text x="55.00" y="719.10" font-size="9.5" font-weight="bold" text-anchor="start" letter-spacing="0.1" fill="#000" font-family='"Liberation Sans", sans-serif'>TWIN TOWERS CORRECTIONAL FACILITY-TOWER 2</text>
<text x="412.80" y="720.00" font-size="11.3" font-weight="bold" text-anchor="end" fill="#000" font-family='"Liberation Sans", sans-serif'>1,194</text>
<text x="479.60" y="720.00" font-size="11.3" font-weight="bold" text-anchor="end" fill="#000" font-family='"Liberation Sans", sans-serif'>1,817</text>
<text x="541.30" y="720.00" font-size="11.3" font-weight="bold" text-anchor="end" fill="#000" font-family='"Liberation Sans", sans-serif'>276</text>
<text x="600.90" y="720.00" font-size="11.3" font-weight="bold" text-anchor="end" fill="#000" font-family='"Liberation Sans", sans-serif'>2,093</text>
<text x="665.40" y="720.00" font-size="11.3" font-weight="bold" text-anchor="end" fill="#000" font-family='"Liberation Sans", sans-serif'>55</text>
<text x="728.90" y="720.00" font-size="11.3" font-weight="bold" text-anchor="end" fill="#000" font-family='"Liberation Sans", sans-serif'>506</text>
<text x="787.70" y="720.00" font-size="11.3" font-weight="bold" text-anchor="end" fill="#000" font-family='"Liberation Sans", sans-serif'>1,532</text>
<text x="848.80" y="720.00" font-size="11.3" font-weight="bold" text-anchor="end" fill="#000" font-family='"Liberation Sans", sans-serif'>0</text>
<text x="910.60" y="720.00" font-size="11.3" font-weight="bold" text-anchor="end" fill="#000" font-family='"Liberation Sans", sans-serif'>322</text>
<text x="966.00" y="720.00" font-size="11.3" font-weight="bold" text-anchor="end" fill="#000" font-family='"Liberation Sans", sans-serif'>322</text>
<text x="1032.90" y="720.00" font-size="11.3" font-weight="bold" text-anchor="end" fill="#000" font-family='"Liberation Sans", sans-serif'>1,210</text>
<rect x="52.60" y="723.10" width="982.80" height="17.30" fill="#FFFA99"/>
<text x="338.50" y="735.60" font-size="9.5" font-weight="bold" text-anchor="end" letter-spacing="0.1" fill="#000" font-family='"Liberation Sans", sans-serif' xml:space="preserve">CJ &amp; TTCF MALE TOTAL</text>
<text x="416.80" y="736.20" font-size="11.3" font-weight="bold" text-anchor="end" fill="#000" font-family='"Liberation Sans", sans-serif'>5,944</text>
<text x="479.60" y="736.20" font-size="11.3" font-weight="bold" text-anchor="end" fill="#000" font-family='"Liberation Sans", sans-serif'>9,086</text>
<text x="541.30" y="736.20" font-size="11.3" font-weight="bold" text-anchor="end" fill="#000" font-family='"Liberation Sans", sans-serif'>336</text>
<text x="600.90" y="736.20" font-size="11.3" font-weight="bold" text-anchor="end" fill="#000" font-family='"Liberation Sans", sans-serif'>9,422</text>
<text x="665.40" y="736.20" font-size="11.3" font-weight="bold" text-anchor="end" fill="#000" font-family='"Liberation Sans", sans-serif'>579</text>
<text x="728.90" y="736.20" font-size="11.3" font-weight="bold" text-anchor="end" fill="#000" font-family='"Liberation Sans", sans-serif'>828</text>
<text x="787.70" y="736.20" font-size="11.3" font-weight="bold" text-anchor="end" fill="#000" font-family='"Liberation Sans", sans-serif'>8,015</text>
<text x="848.80" y="736.20" font-size="11.3" font-weight="bold" text-anchor="end" fill="#000" font-family='"Liberation Sans", sans-serif'>150</text>
<text x="910.60" y="736.20" font-size="11.3" font-weight="bold" text-anchor="end" fill="#000" font-family='"Liberation Sans", sans-serif'>1,813</text>
<text x="966.00" y="736.20" font-size="11.3" font-weight="bold" text-anchor="end" fill="#000" font-family='"Liberation Sans", sans-serif'>1,963</text>
<text x="1032.90" y="736.20" font-size="11.3" font-weight="bold" text-anchor="end" fill="#000" font-family='"Liberation Sans", sans-serif'>6,052</text>
<rect x="52.60" y="739.60" width="288.80" height="16.20" fill="#FFFFFF"/>
<rect x="340.60" y="739.60" width="79.80" height="16.20" fill="#D9D9D9"/>
<rect x="419.60" y="739.60" width="548.30" height="16.20" fill="#FFFFFF"/>
<rect x="967.10" y="739.60" width="68.30" height="16.20" fill="#B7DDE8"/>
<text x="55.00" y="751.00" font-size="9.5" font-weight="bold" text-anchor="start" letter-spacing="0.1" fill="#000" font-family='"Liberation Sans", sans-serif'>CENTURY REGIONAL DETENTION FACILITY (FEMALES)</text>
<text x="412.80" y="751.90" font-size="11.3" font-weight="bold" text-anchor="end" fill="#000" font-family='"Liberation Sans", sans-serif'>1,708</text>
<text x="479.60" y="751.90" font-size="11.3" font-weight="bold" text-anchor="end" fill="#000" font-family='"Liberation Sans", sans-serif'>2,158</text>
<text x="541.30" y="751.90" font-size="11.3" font-weight="bold" text-anchor="end" fill="#000" font-family='"Liberation Sans", sans-serif'>372</text>
<text x="600.90" y="751.90" font-size="11.3" font-weight="bold" text-anchor="end" fill="#000" font-family='"Liberation Sans", sans-serif'>2,530</text>
<text x="665.40" y="751.90" font-size="11.3" font-weight="bold" text-anchor="end" fill="#000" font-family='"Liberation Sans", sans-serif'>16</text>
<text x="728.90" y="751.90" font-size="11.3" font-weight="bold" text-anchor="end" fill="#000" font-family='"Liberation Sans", sans-serif'>186</text>
<text x="787.70" y="751.90" font-size="11.3" font-weight="bold" text-anchor="end" fill="#000" font-family='"Liberation Sans", sans-serif'>2,328</text>
<text x="848.80" y="751.90" font-size="11.3" font-weight="bold" text-anchor="end" fill="#000" font-family='"Liberation Sans", sans-serif'>134</text>
<text x="910.60" y="751.90" font-size="11.3" font-weight="bold" text-anchor="end" fill="#000" font-family='"Liberation Sans", sans-serif'>415</text>
<text x="966.00" y="751.90" font-size="11.3" font-weight="bold" text-anchor="end" fill="#000" font-family='"Liberation Sans", sans-serif'>1,025</text>
<text x="1032.90" y="751.90" font-size="11.3" font-weight="bold" text-anchor="end" fill="#000" font-family='"Liberation Sans", sans-serif'>1,303</text>
<rect x="52.60" y="755.00" width="982.80" height="17.00" fill="#FFFA99"/>
<text x="338.50" y="767.20" font-size="9.5" font-weight="bold" text-anchor="end" letter-spacing="0.1" fill="#000" font-family='"Liberation Sans", sans-serif' xml:space="preserve">CRDF FEMALE TOTAL</text>
<text x="416.80" y="767.80" font-size="11.3" font-weight="bold" text-anchor="end" fill="#000" font-family='"Liberation Sans", sans-serif'>1,708</text>
<text x="479.60" y="767.80" font-size="11.3" font-weight="bold" text-anchor="end" fill="#000" font-family='"Liberation Sans", sans-serif'>2,158</text>
<text x="541.30" y="767.80" font-size="11.3" font-weight="bold" text-anchor="end" fill="#000" font-family='"Liberation Sans", sans-serif'>372</text>
<text x="600.90" y="767.80" font-size="11.3" font-weight="bold" text-anchor="end" fill="#000" font-family='"Liberation Sans", sans-serif'>2,530</text>
<text x="665.40" y="767.80" font-size="11.3" font-weight="bold" text-anchor="end" fill="#000" font-family='"Liberation Sans", sans-serif'>16</text>
<text x="728.90" y="767.80" font-size="11.3" font-weight="bold" text-anchor="end" fill="#000" font-family='"Liberation Sans", sans-serif'>186</text>
<text x="787.70" y="767.80" font-size="11.3" font-weight="bold" text-anchor="end" fill="#000" font-family='"Liberation Sans", sans-serif'>2,328</text>
<text x="848.80" y="767.80" font-size="11.3" font-weight="bold" text-anchor="end" fill="#000" font-family='"Liberation Sans", sans-serif'>134</text>
<text x="910.60" y="767.80" font-size="11.3" font-weight="bold" text-anchor="end" fill="#000" font-family='"Liberation Sans", sans-serif'>415</text>
<text x="966.00" y="767.80" font-size="11.3" font-weight="bold" text-anchor="end" fill="#000" font-family='"Liberation Sans", sans-serif'>1,025</text>
<text x="1032.90" y="767.80" font-size="11.3" font-weight="bold" text-anchor="end" fill="#000" font-family='"Liberation Sans", sans-serif'>1,303</text>
<rect x="52.60" y="771.20" width="288.80" height="18.20" fill="#FFFFFF"/>
<rect x="340.60" y="771.20" width="627.30" height="18.20" fill="#D9D9D9"/>
<rect x="967.10" y="771.20" width="68.30" height="18.20" fill="#B7DDE8"/>
<text x="55.00" y="784.60" font-size="9.5" font-weight="bold" text-anchor="start" letter-spacing="0.1" fill="#000" font-family='"Liberation Sans", sans-serif'>CORRECTIONAL TREATMENT CENTER (MSB) MALES</text>
<text x="1031.90" y="785.50" font-size="11.6" font-weight="bold" text-anchor="end" fill="#000" font-family='"Liberation Sans", sans-serif'>104</text>
<rect x="52.60" y="788.60" width="288.80" height="17.50" fill="#FFFFFF"/>
<rect x="340.60" y="788.60" width="627.30" height="17.50" fill="#D9D9D9"/>
<rect x="967.10" y="788.60" width="68.30" height="17.50" fill="#B7DDE8"/>
<text x="55.00" y="801.30" font-size="9.5" font-weight="bold" text-anchor="start" letter-spacing="0.1" fill="#000" font-family='"Liberation Sans", sans-serif'>CORRECTIONAL TREATMENT CENTER (MSB) FEMALES</text>
<text x="1031.90" y="802.20" font-size="11.6" font-weight="bold" text-anchor="end" fill="#000" font-family='"Liberation Sans", sans-serif'>17</text>
<rect x="52.60" y="805.30" width="982.80" height="17.70" fill="#FFFA99"/>
<text x="338.50" y="818.20" font-size="9.5" font-weight="bold" text-anchor="end" letter-spacing="0.1" fill="#000" font-family='"Liberation Sans", sans-serif' xml:space="preserve">CORRECTIONAL TREATMENT CENTER  TOTAL</text>
<text x="417.80" y="817.70" font-size="8" font-weight="bold" text-anchor="end" letter-spacing="0.3" fill="#000" font-family='"Liberation Sans", sans-serif'>*NR</text>
<text x="479.00" y="818.60" font-size="11.5" font-weight="bold" text-anchor="end" fill="#000" font-family='"Liberation Sans", sans-serif'>196</text>
<text x="540.00" y="818.60" font-size="11.5" font-weight="bold" text-anchor="end" fill="#000" font-family='"Liberation Sans", sans-serif'>0</text>
<text x="601.00" y="818.60" font-size="11.5" font-weight="bold" text-anchor="end" fill="#000" font-family='"Liberation Sans", sans-serif'>196</text>
<text x="665.00" y="818.60" font-size="11.5" font-weight="bold" text-anchor="end" fill="#000" font-family='"Liberation Sans", sans-serif'>0</text>
<text x="729.00" y="818.60" font-size="11.5" font-weight="bold" text-anchor="end" fill="#000" font-family='"Liberation Sans", sans-serif'>0</text>
<text x="787.00" y="818.60" font-size="11.5" font-weight="bold" text-anchor="end" fill="#000" font-family='"Liberation Sans", sans-serif'>196</text>
<text x="847.00" y="818.60" font-size="11.5" font-weight="bold" text-anchor="end" fill="#000" font-family='"Liberation Sans", sans-serif'>0</text>
<text x="909.00" y="818.60" font-size="11.5" font-weight="bold" text-anchor="end" fill="#000" font-family='"Liberation Sans", sans-serif'>75</text>
<text x="964.50" y="818.60" font-size="11.5" font-weight="bold" text-anchor="end" fill="#000" font-family='"Liberation Sans", sans-serif'>75</text>
<text x="1032.00" y="818.60" font-size="11.5" font-weight="bold" text-anchor="end" fill="#000" font-family='"Liberation Sans", sans-serif'>121</text>
<rect x="52.60" y="822.20" width="288.80" height="18.50" fill="#FFFFFF"/>
<rect x="340.60" y="822.20" width="627.30" height="18.50" fill="#D9D9D9"/>
<rect x="967.10" y="822.20" width="68.30" height="18.50" fill="#B7DDE8"/>
<text x="55.00" y="835.90" font-size="9.5" font-weight="bold" text-anchor="start" letter-spacing="0.1" fill="#000" font-family='"Liberation Sans", sans-serif'>LCMC JAIL WARDS MALE</text>
<text x="1031.90" y="836.80" font-size="11.6" font-weight="bold" text-anchor="end" fill="#000" font-family='"Liberation Sans", sans-serif'>25</text>
<rect x="52.60" y="839.90" width="288.80" height="17.90" fill="#FFFFFF"/>
<rect x="340.60" y="839.90" width="627.30" height="17.90" fill="#D9D9D9"/>
<rect x="967.10" y="839.90" width="68.30" height="17.90" fill="#B7DDE8"/>
<text x="55.00" y="853.00" font-size="9.5" font-weight="bold" text-anchor="start" letter-spacing="0.1" fill="#000" font-family='"Liberation Sans", sans-serif'>LCMC JAIL WARDS FEMALE</text>
<text x="1031.90" y="853.90" font-size="11.6" font-weight="bold" text-anchor="end" fill="#000" font-family='"Liberation Sans", sans-serif'>0</text>
<rect x="52.60" y="857.00" width="982.80" height="17.50" fill="#FFFA99"/>
<text x="338.50" y="869.70" font-size="9.5" font-weight="bold" text-anchor="end" letter-spacing="0.1" fill="#000" font-family='"Liberation Sans", sans-serif' xml:space="preserve">LCMC JAIL WARD TOTAL</text>
<text x="417.80" y="869.20" font-size="8" font-weight="bold" text-anchor="end" letter-spacing="0.3" fill="#000" font-family='"Liberation Sans", sans-serif'>*NR</text>
<text x="479.00" y="870.10" font-size="11.5" font-weight="bold" text-anchor="end" fill="#000" font-family='"Liberation Sans", sans-serif'>40</text>
<text x="540.00" y="870.10" font-size="11.5" font-weight="bold" text-anchor="end" fill="#000" font-family='"Liberation Sans", sans-serif'>0</text>
<text x="601.00" y="870.10" font-size="11.5" font-weight="bold" text-anchor="end" fill="#000" font-family='"Liberation Sans", sans-serif'>40</text>
<text x="665.00" y="870.10" font-size="11.5" font-weight="bold" text-anchor="end" fill="#000" font-family='"Liberation Sans", sans-serif'>0</text>
<text x="729.00" y="870.10" font-size="11.5" font-weight="bold" text-anchor="end" fill="#000" font-family='"Liberation Sans", sans-serif'>0</text>
<text x="787.00" y="870.10" font-size="11.5" font-weight="bold" text-anchor="end" fill="#000" font-family='"Liberation Sans", sans-serif'>40</text>
<text x="847.00" y="870.10" font-size="11.5" font-weight="bold" text-anchor="end" fill="#000" font-family='"Liberation Sans", sans-serif'>0</text>
<text x="909.00" y="870.10" font-size="11.5" font-weight="bold" text-anchor="end" fill="#000" font-family='"Liberation Sans", sans-serif'>15</text>
<text x="964.50" y="870.10" font-size="11.5" font-weight="bold" text-anchor="end" fill="#000" font-family='"Liberation Sans", sans-serif'>15</text>
<text x="1032.00" y="870.10" font-size="11.5" font-weight="bold" text-anchor="end" fill="#000" font-family='"Liberation Sans", sans-serif'>25</text>
<rect x="52.60" y="873.70" width="982.80" height="17.40" fill="#CCFFCC"/>
<text x="338.50" y="886.30" font-size="9.5" font-weight="bold" text-anchor="end" fill="#000" font-family='"Liberation Sans", sans-serif'>OCCUPIED TOTAL</text>
<text x="479.10" y="887.70" font-size="13.5" font-weight="bold" text-anchor="end" fill="#000" font-family='"Liberation Sans", sans-serif'>20,842</text>
<text x="540.10" y="887.70" font-size="13.5" font-weight="bold" text-anchor="end" fill="#000" font-family='"Liberation Sans", sans-serif'>738</text>
<text x="601.10" y="887.70" font-size="13.5" font-weight="bold" text-anchor="end" fill="#000" font-family='"Liberation Sans", sans-serif'>21,580</text>
<text x="665.10" y="887.70" font-size="13.5" font-weight="bold" text-anchor="end" fill="#000" font-family='"Liberation Sans", sans-serif'>734</text>
<text x="729.10" y="887.70" font-size="13.5" font-weight="bold" text-anchor="end" fill="#000" font-family='"Liberation Sans", sans-serif'>4,459</text>
<text x="787.10" y="887.70" font-size="13.5" font-weight="bold" text-anchor="end" fill="#000" font-family='"Liberation Sans", sans-serif'>16,387</text>
<text x="847.10" y="887.70" font-size="13.5" font-weight="bold" text-anchor="end" fill="#000" font-family='"Liberation Sans", sans-serif'>710</text>
<text x="909.10" y="887.70" font-size="13.5" font-weight="bold" text-anchor="end" fill="#000" font-family='"Liberation Sans", sans-serif'>3,206</text>
<text x="964.60" y="887.70" font-size="13.5" font-weight="bold" text-anchor="end" fill="#000" font-family='"Liberation Sans", sans-serif'>4,392</text>
<text x="1032.10" y="887.70" font-size="13.5" font-weight="bold" text-anchor="end" fill="#000" font-family='"Liberation Sans", sans-serif'>11,995</text>
<rect x="52.60" y="890.30" width="288.80" height="18.20" fill="#FFFFFF"/>
<rect x="340.60" y="890.30" width="627.30" height="18.20" fill="#D9D9D9"/>
<rect x="967.10" y="890.30" width="68.30" height="18.20" fill="#B7DDE8"/>
<text x="55.00" y="903.70" font-size="9.5" font-weight="bold" text-anchor="start" letter-spacing="0.1" fill="#000" font-family='"Liberation Sans", sans-serif'>INMATE RECEPTION CENTER</text>
<text x="1031.90" y="904.60" font-size="11.6" font-weight="bold" text-anchor="end" fill="#000" font-family='"Liberation Sans", sans-serif'>237</text>
<rect x="52.60" y="907.70" width="288.80" height="17.70" fill="#FFFFFF"/>
<rect x="340.60" y="907.70" width="627.30" height="17.70" fill="#D9D9D9"/>
<rect x="967.10" y="907.70" width="68.30" height="17.70" fill="#B7DDE8"/>
<text x="55.00" y="920.60" font-size="9.5" font-weight="bold" text-anchor="start" letter-spacing="0.1" fill="#000" font-family='"Liberation Sans", sans-serif'>CRDF RECEPTION CENTER</text>
<text x="1031.90" y="921.50" font-size="11.6" font-weight="bold" text-anchor="end" fill="#000" font-family='"Liberation Sans", sans-serif'>4</text>
<rect x="52.60" y="924.60" width="982.80" height="17.40" fill="#FFFA99"/>
<text x="338.50" y="937.20" font-size="9.5" font-weight="bold" text-anchor="end" letter-spacing="0.1" fill="#000" font-family='"Liberation Sans", sans-serif'>RECEPTION CENTERS TOTAL</text>
<text x="1031.90" y="938.10" font-size="11.6" font-weight="bold" text-anchor="end" fill="#000" font-family='"Liberation Sans", sans-serif'>241</text>
<rect x="52.60" y="941.20" width="367.80" height="18.00" fill="#CCFFCC"/>
<text x="338.50" y="954.40" font-size="9.5" font-weight="bold" text-anchor="end" fill="#000" font-family='"Liberation Sans", sans-serif'>TOTAL BSCC RATED CAPACITY</text>
<text x="417.20" y="955.80" font-size="13.5" font-weight="bold" text-anchor="end" fill="#000" font-family='"Liberation Sans", sans-serif'>12,404</text>
<rect x="849.60" y="941.20" width="118.30" height="35.20" fill="#CCFFCC"/>
<rect x="967.10" y="941.20" width="68.30" height="35.20" fill="#CCFFCC"/>
<rect x="731.60" y="975.60" width="303.80" height="17.30" fill="#FABF8F"/>
<text x="908.80" y="954.80" font-size="8.3" font-weight="bold" text-anchor="middle" fill="#000" font-family='"Liberation Sans", sans-serif'>MALE DIVISION TOTAL</text>
<text x="909.20" y="971.60" font-size="8.3" font-weight="bold" text-anchor="middle" fill="#000" font-family='"Liberation Sans", sans-serif'>FEMALE DIVISION TOTAL</text>
<text x="1032.00" y="955.60" font-size="13.4" font-weight="bold" text-anchor="end" fill="#000" font-family='"Liberation Sans", sans-serif'>10,912</text>
<text x="1032.00" y="972.60" font-size="13.4" font-weight="bold" text-anchor="end" fill="#000" font-family='"Liberation Sans", sans-serif'>1,324</text>
<text x="848.60" y="989.30" font-size="13.55" font-weight="bold" text-anchor="middle" fill="#000" font-family='"Liberation Sans", sans-serif'>CUSTODY DIVISION TOTAL</text>
<text x="1032.00" y="989.60" font-size="13.4" font-weight="bold" text-anchor="end" fill="#000" font-family='"Liberation Sans", sans-serif'>12,236</text>
<line x1="53.00" y1="541.00" x2="53.00" y2="573.70" stroke="#3a3a3a" stroke-width="1.5"/>
<line x1="341.00" y1="541.00" x2="341.00" y2="573.70" stroke="#3a3a3a" stroke-width="1.5"/>
<line x1="420.00" y1="541.00" x2="420.00" y2="573.70" stroke="#3a3a3a" stroke-width="1.5"/>
<line x1="482.00" y1="541.00" x2="482.00" y2="573.70" stroke="#3a3a3a" stroke-width="1.5"/>
<line x1="543.00" y1="541.00" x2="543.00" y2="573.70" stroke="#3a3a3a" stroke-width="1.5"/>
<line x1="604.00" y1="541.00" x2="604.00" y2="573.70" stroke="#3a3a3a" stroke-width="1.5"/>
<line x1="668.00" y1="541.00" x2="668.00" y2="573.70" stroke="#3a3a3a" stroke-width="1.5"/>
<line x1="732.00" y1="541.00" x2="732.00" y2="573.70" stroke="#3a3a3a" stroke-width="1.5"/>
<line x1="790.00" y1="541.00" x2="790.00" y2="573.70" stroke="#3a3a3a" stroke-width="1.5"/>
<line x1="850.00" y1="541.00" x2="850.00" y2="573.70" stroke="#3a3a3a" stroke-width="1.5"/>
<line x1="912.00" y1="541.00" x2="912.00" y2="573.70" stroke="#3a3a3a" stroke-width="1.5"/>
<line x1="967.50" y1="541.00" x2="967.50" y2="573.70" stroke="#3a3a3a" stroke-width="1.5"/>
<line x1="1035.00" y1="541.00" x2="1035.00" y2="573.70" stroke="#3a3a3a" stroke-width="1.5"/>
<line x1="53.00" y1="573.70" x2="53.00" y2="591.20" stroke="#3a3a3a" stroke-width="1.5"/>
<line x1="341.00" y1="573.70" x2="341.00" y2="591.20" stroke="#3a3a3a" stroke-width="1.5"/>
<line x1="420.00" y1="573.70" x2="420.00" y2="591.20" stroke="#3a3a3a" stroke-width="1.5"/>
<line x1="482.00" y1="573.70" x2="482.00" y2="591.20" stroke="#3a3a3a" stroke-width="1.5"/>
<line x1="543.00" y1="573.70" x2="543.00" y2="591.20" stroke="#3a3a3a" stroke-width="1.5"/>
<line x1="604.00" y1="573.70" x2="604.00" y2="591.20" stroke="#3a3a3a" stroke-width="1.5"/>
<line x1="668.00" y1="573.70" x2="668.00" y2="591.20" stroke="#3a3a3a" stroke-width="1.5"/>
<line x1="732.00" y1="573.70" x2="732.00" y2="591.20" stroke="#3a3a3a" stroke-width="1.5"/>
<line x1="790.00" y1="573.70" x2="790.00" y2="591.20" stroke="#3a3a3a" stroke-width="1.5"/>
<line x1="850.00" y1="573.70" x2="850.00" y2="591.20" stroke="#3a3a3a" stroke-width="1.5"/>
<line x1="912.00" y1="573.70" x2="912.00" y2="591.20" stroke="#3a3a3a" stroke-width="1.5"/>
<line x1="967.50" y1="573.70" x2="967.50" y2="591.20" stroke="#3a3a3a" stroke-width="1.5"/>
<line x1="1035.00" y1="573.70" x2="1035.00" y2="591.20" stroke="#3a3a3a" stroke-width="1.5"/>
<line x1="53.00" y1="591.20" x2="53.00" y2="608.50" stroke="#3a3a3a" stroke-width="1.5"/>
<line x1="341.00" y1="591.20" x2="341.00" y2="608.50" stroke="#3a3a3a" stroke-width="1.5"/>
<line x1="420.00" y1="591.20" x2="420.00" y2="608.50" stroke="#3a3a3a" stroke-width="1.5"/>
<line x1="482.00" y1="591.20" x2="482.00" y2="608.50" stroke="#3a3a3a" stroke-width="1.5"/>
<line x1="543.00" y1="591.20" x2="543.00" y2="608.50" stroke="#3a3a3a" stroke-width="1.5"/>
<line x1="604.00" y1="591.20" x2="604.00" y2="608.50" stroke="#3a3a3a" stroke-width="1.5"/>
<line x1="668.00" y1="591.20" x2="668.00" y2="608.50" stroke="#3a3a3a" stroke-width="1.5"/>
<line x1="732.00" y1="591.20" x2="732.00" y2="608.50" stroke="#3a3a3a" stroke-width="1.5"/>
<line x1="790.00" y1="591.20" x2="790.00" y2="608.50" stroke="#3a3a3a" stroke-width="1.5"/>
<line x1="850.00" y1="591.20" x2="850.00" y2="608.50" stroke="#3a3a3a" stroke-width="1.5"/>
<line x1="912.00" y1="591.20" x2="912.00" y2="608.50" stroke="#3a3a3a" stroke-width="1.5"/>
<line x1="967.50" y1="591.20" x2="967.50" y2="608.50" stroke="#3a3a3a" stroke-width="1.5"/>
<line x1="1035.00" y1="591.20" x2="1035.00" y2="608.50" stroke="#3a3a3a" stroke-width="1.5"/>
<line x1="53.00" y1="608.50" x2="53.00" y2="625.40" stroke="#3a3a3a" stroke-width="1.5"/>
<line x1="341.00" y1="608.50" x2="341.00" y2="625.40" stroke="#3a3a3a" stroke-width="1.5"/>
<line x1="420.00" y1="608.50" x2="420.00" y2="625.40" stroke="#3a3a3a" stroke-width="1.5"/>
<line x1="482.00" y1="608.50" x2="482.00" y2="625.40" stroke="#3a3a3a" stroke-width="1.5"/>
<line x1="543.00" y1="608.50" x2="543.00" y2="625.40" stroke="#3a3a3a" stroke-width="1.5"/>
<line x1="604.00" y1="608.50" x2="604.00" y2="625.40" stroke="#3a3a3a" stroke-width="1.5"/>
<line x1="668.00" y1="608.50" x2="668.00" y2="625.40" stroke="#3a3a3a" stroke-width="1.5"/>
<line x1="732.00" y1="608.50" x2="732.00" y2="625.40" stroke="#3a3a3a" stroke-width="1.5"/>
<line x1="790.00" y1="608.50" x2="790.00" y2="625.40" stroke="#3a3a3a" stroke-width="1.5"/>
<line x1="850.00" y1="608.50" x2="850.00" y2="625.40" stroke="#3a3a3a" stroke-width="1.5"/>
<line x1="912.00" y1="608.50" x2="912.00" y2="625.40" stroke="#3a3a3a" stroke-width="1.5"/>
<line x1="967.50" y1="608.50" x2="967.50" y2="625.40" stroke="#3a3a3a" stroke-width="1.5"/>
<line x1="1035.00" y1="608.50" x2="1035.00" y2="625.40" stroke="#3a3a3a" stroke-width="1.5"/>
<line x1="53.00" y1="625.40" x2="53.00" y2="642.00" stroke="#3a3a3a" stroke-width="1.5"/>
<line x1="341.00" y1="625.40" x2="341.00" y2="642.00" stroke="#3a3a3a" stroke-width="1.5"/>
<line x1="420.00" y1="625.40" x2="420.00" y2="642.00" stroke="#3a3a3a" stroke-width="1.5"/>
<line x1="482.00" y1="625.40" x2="482.00" y2="642.00" stroke="#3a3a3a" stroke-width="1.5"/>
<line x1="543.00" y1="625.40" x2="543.00" y2="642.00" stroke="#3a3a3a" stroke-width="1.5"/>
<line x1="604.00" y1="625.40" x2="604.00" y2="642.00" stroke="#3a3a3a" stroke-width="1.5"/>
<line x1="668.00" y1="625.40" x2="668.00" y2="642.00" stroke="#3a3a3a" stroke-width="1.5"/>
<line x1="732.00" y1="625.40" x2="732.00" y2="642.00" stroke="#3a3a3a" stroke-width="1.5"/>
<line x1="790.00" y1="625.40" x2="790.00" y2="642.00" stroke="#3a3a3a" stroke-width="1.5"/>
<line x1="850.00" y1="625.40" x2="850.00" y2="642.00" stroke="#3a3a3a" stroke-width="1.5"/>
<line x1="912.00" y1="625.40" x2="912.00" y2="642.00" stroke="#3a3a3a" stroke-width="1.5"/>
<line x1="967.50" y1="625.40" x2="967.50" y2="642.00" stroke="#3a3a3a" stroke-width="1.5"/>
<line x1="1035.00" y1="625.40" x2="1035.00" y2="642.00" stroke="#3a3a3a" stroke-width="1.5"/>
<line x1="53.00" y1="642.00" x2="53.00" y2="658.80" stroke="#3a3a3a" stroke-width="1.5"/>
<line x1="341.00" y1="642.00" x2="341.00" y2="658.80" stroke="#3a3a3a" stroke-width="1.5"/>
<line x1="420.00" y1="642.00" x2="420.00" y2="658.80" stroke="#3a3a3a" stroke-width="1.5"/>
<line x1="482.00" y1="642.00" x2="482.00" y2="658.80" stroke="#3a3a3a" stroke-width="1.5"/>
<line x1="543.00" y1="642.00" x2="543.00" y2="658.80" stroke="#3a3a3a" stroke-width="1.5"/>
<line x1="604.00" y1="642.00" x2="604.00" y2="658.80" stroke="#3a3a3a" stroke-width="1.5"/>
<line x1="668.00" y1="642.00" x2="668.00" y2="658.80" stroke="#3a3a3a" stroke-width="1.5"/>
<line x1="732.00" y1="642.00" x2="732.00" y2="658.80" stroke="#3a3a3a" stroke-width="1.5"/>
<line x1="790.00" y1="642.00" x2="790.00" y2="658.80" stroke="#3a3a3a" stroke-width="1.5"/>
<line x1="850.00" y1="642.00" x2="850.00" y2="658.80" stroke="#3a3a3a" stroke-width="1.5"/>
<line x1="912.00" y1="642.00" x2="912.00" y2="658.80" stroke="#3a3a3a" stroke-width="1.5"/>
<line x1="967.50" y1="642.00" x2="967.50" y2="658.80" stroke="#3a3a3a" stroke-width="1.5"/>
<line x1="1035.00" y1="642.00" x2="1035.00" y2="658.80" stroke="#3a3a3a" stroke-width="1.5"/>
<line x1="53.00" y1="658.80" x2="53.00" y2="675.70" stroke="#3a3a3a" stroke-width="1.5"/>
<line x1="341.00" y1="658.80" x2="341.00" y2="675.70" stroke="#3a3a3a" stroke-width="1.5"/>
<line x1="420.00" y1="658.80" x2="420.00" y2="675.70" stroke="#3a3a3a" stroke-width="1.5"/>
<line x1="482.00" y1="658.80" x2="482.00" y2="675.70" stroke="#3a3a3a" stroke-width="1.5"/>
<line x1="543.00" y1="658.80" x2="543.00" y2="675.70" stroke="#3a3a3a" stroke-width="1.5"/>
<line x1="604.00" y1="658.80" x2="604.00" y2="675.70" stroke="#3a3a3a" stroke-width="1.5"/>
<line x1="668.00" y1="658.80" x2="668.00" y2="675.70" stroke="#3a3a3a" stroke-width="1.5"/>
<line x1="732.00" y1="658.80" x2="732.00" y2="675.70" stroke="#3a3a3a" stroke-width="1.5"/>
<line x1="790.00" y1="658.80" x2="790.00" y2="675.70" stroke="#3a3a3a" stroke-width="1.5"/>
<line x1="850.00" y1="658.80" x2="850.00" y2="675.70" stroke="#3a3a3a" stroke-width="1.5"/>
<line x1="912.00" y1="658.80" x2="912.00" y2="675.70" stroke="#3a3a3a" stroke-width="1.5"/>
<line x1="967.50" y1="658.80" x2="967.50" y2="675.70" stroke="#3a3a3a" stroke-width="1.5"/>
<line x1="1035.00" y1="658.80" x2="1035.00" y2="675.70" stroke="#3a3a3a" stroke-width="1.5"/>
<line x1="53.00" y1="675.70" x2="53.00" y2="692.60" stroke="#3a3a3a" stroke-width="1.5"/>
<line x1="341.00" y1="675.70" x2="341.00" y2="692.60" stroke="#3a3a3a" stroke-width="1.5"/>
<line x1="420.00" y1="675.70" x2="420.00" y2="692.60" stroke="#3a3a3a" stroke-width="1.5"/>
<line x1="482.00" y1="675.70" x2="482.00" y2="692.60" stroke="#3a3a3a" stroke-width="1.5"/>
<line x1="543.00" y1="675.70" x2="543.00" y2="692.60" stroke="#3a3a3a" stroke-width="1.5"/>
<line x1="604.00" y1="675.70" x2="604.00" y2="692.60" stroke="#3a3a3a" stroke-width="1.5"/>
<line x1="668.00" y1="675.70" x2="668.00" y2="692.60" stroke="#3a3a3a" stroke-width="1.5"/>
<line x1="732.00" y1="675.70" x2="732.00" y2="692.60" stroke="#3a3a3a" stroke-width="1.5"/>
<line x1="790.00" y1="675.70" x2="790.00" y2="692.60" stroke="#3a3a3a" stroke-width="1.5"/>
<line x1="850.00" y1="675.70" x2="850.00" y2="692.60" stroke="#3a3a3a" stroke-width="1.5"/>
<line x1="912.00" y1="675.70" x2="912.00" y2="692.60" stroke="#3a3a3a" stroke-width="1.5"/>
<line x1="967.50" y1="675.70" x2="967.50" y2="692.60" stroke="#3a3a3a" stroke-width="1.5"/>
<line x1="1035.00" y1="675.70" x2="1035.00" y2="692.60" stroke="#3a3a3a" stroke-width="1.5"/>
<line x1="53.00" y1="692.60" x2="53.00" y2="708.10" stroke="#3a3a3a" stroke-width="1.5"/>
<line x1="341.00" y1="692.60" x2="341.00" y2="708.10" stroke="#3a3a3a" stroke-width="1.5"/>
<line x1="420.00" y1="692.60" x2="420.00" y2="708.10" stroke="#3a3a3a" stroke-width="1.5"/>
<line x1="482.00" y1="692.60" x2="482.00" y2="708.10" stroke="#3a3a3a" stroke-width="1.5"/>
<line x1="543.00" y1="692.60" x2="543.00" y2="708.10" stroke="#3a3a3a" stroke-width="1.5"/>
<line x1="604.00" y1="692.60" x2="604.00" y2="708.10" stroke="#3a3a3a" stroke-width="1.5"/>
<line x1="668.00" y1="692.60" x2="668.00" y2="708.10" stroke="#3a3a3a" stroke-width="1.5"/>
<line x1="732.00" y1="692.60" x2="732.00" y2="708.10" stroke="#3a3a3a" stroke-width="1.5"/>
<line x1="790.00" y1="692.60" x2="790.00" y2="708.10" stroke="#3a3a3a" stroke-width="1.5"/>
<line x1="850.00" y1="692.60" x2="850.00" y2="708.10" stroke="#3a3a3a" stroke-width="1.5"/>
<line x1="912.00" y1="692.60" x2="912.00" y2="708.10" stroke="#3a3a3a" stroke-width="1.5"/>
<line x1="967.50" y1="692.60" x2="967.50" y2="708.10" stroke="#3a3a3a" stroke-width="1.5"/>
<line x1="1035.00" y1="692.60" x2="1035.00" y2="708.10" stroke="#3a3a3a" stroke-width="1.5"/>
<line x1="53.00" y1="708.10" x2="53.00" y2="723.50" stroke="#3a3a3a" stroke-width="1.5"/>
<line x1="341.00" y1="708.10" x2="341.00" y2="723.50" stroke="#3a3a3a" stroke-width="1.5"/>
<line x1="420.00" y1="708.10" x2="420.00" y2="723.50" stroke="#3a3a3a" stroke-width="1.5"/>
<line x1="482.00" y1="708.10" x2="482.00" y2="723.50" stroke="#3a3a3a" stroke-width="1.5"/>
<line x1="543.00" y1="708.10" x2="543.00" y2="723.50" stroke="#3a3a3a" stroke-width="1.5"/>
<line x1="604.00" y1="708.10" x2="604.00" y2="723.50" stroke="#3a3a3a" stroke-width="1.5"/>
<line x1="668.00" y1="708.10" x2="668.00" y2="723.50" stroke="#3a3a3a" stroke-width="1.5"/>
<line x1="732.00" y1="708.10" x2="732.00" y2="723.50" stroke="#3a3a3a" stroke-width="1.5"/>
<line x1="790.00" y1="708.10" x2="790.00" y2="723.50" stroke="#3a3a3a" stroke-width="1.5"/>
<line x1="850.00" y1="708.10" x2="850.00" y2="723.50" stroke="#3a3a3a" stroke-width="1.5"/>
<line x1="912.00" y1="708.10" x2="912.00" y2="723.50" stroke="#3a3a3a" stroke-width="1.5"/>
<line x1="967.50" y1="708.10" x2="967.50" y2="723.50" stroke="#3a3a3a" stroke-width="1.5"/>
<line x1="1035.00" y1="708.10" x2="1035.00" y2="723.50" stroke="#3a3a3a" stroke-width="1.5"/>
<line x1="53.00" y1="723.50" x2="53.00" y2="740.00" stroke="#3a3a3a" stroke-width="1.5"/>
<line x1="341.00" y1="723.50" x2="341.00" y2="740.00" stroke="#3a3a3a" stroke-width="1.5"/>
<line x1="420.00" y1="723.50" x2="420.00" y2="740.00" stroke="#3a3a3a" stroke-width="1.5"/>
<line x1="482.00" y1="723.50" x2="482.00" y2="740.00" stroke="#3a3a3a" stroke-width="1.5"/>
<line x1="543.00" y1="723.50" x2="543.00" y2="740.00" stroke="#3a3a3a" stroke-width="1.5"/>
<line x1="604.00" y1="723.50" x2="604.00" y2="740.00" stroke="#3a3a3a" stroke-width="1.5"/>
<line x1="668.00" y1="723.50" x2="668.00" y2="740.00" stroke="#3a3a3a" stroke-width="1.5"/>
<line x1="732.00" y1="723.50" x2="732.00" y2="740.00" stroke="#3a3a3a" stroke-width="1.5"/>
<line x1="790.00" y1="723.50" x2="790.00" y2="740.00" stroke="#3a3a3a" stroke-width="1.5"/>
<line x1="850.00" y1="723.50" x2="850.00" y2="740.00" stroke="#3a3a3a" stroke-width="1.5"/>
<line x1="912.00" y1="723.50" x2="912.00" y2="740.00" stroke="#3a3a3a" stroke-width="1.5"/>
<line x1="967.50" y1="723.50" x2="967.50" y2="740.00" stroke="#3a3a3a" stroke-width="1.5"/>
<line x1="1035.00" y1="723.50" x2="1035.00" y2="740.00" stroke="#3a3a3a" stroke-width="1.5"/>
<line x1="53.00" y1="740.00" x2="53.00" y2="755.40" stroke="#3a3a3a" stroke-width="1.5"/>
<line x1="341.00" y1="740.00" x2="341.00" y2="755.40" stroke="#3a3a3a" stroke-width="1.5"/>
<line x1="420.00" y1="740.00" x2="420.00" y2="755.40" stroke="#3a3a3a" stroke-width="1.5"/>
<line x1="482.00" y1="740.00" x2="482.00" y2="755.40" stroke="#3a3a3a" stroke-width="1.5"/>
<line x1="543.00" y1="740.00" x2="543.00" y2="755.40" stroke="#3a3a3a" stroke-width="1.5"/>
<line x1="604.00" y1="740.00" x2="604.00" y2="755.40" stroke="#3a3a3a" stroke-width="1.5"/>
<line x1="668.00" y1="740.00" x2="668.00" y2="755.40" stroke="#3a3a3a" stroke-width="1.5"/>
<line x1="732.00" y1="740.00" x2="732.00" y2="755.40" stroke="#3a3a3a" stroke-width="1.5"/>
<line x1="790.00" y1="740.00" x2="790.00" y2="755.40" stroke="#3a3a3a" stroke-width="1.5"/>
<line x1="850.00" y1="740.00" x2="850.00" y2="755.40" stroke="#3a3a3a" stroke-width="1.5"/>
<line x1="912.00" y1="740.00" x2="912.00" y2="755.40" stroke="#3a3a3a" stroke-width="1.5"/>
<line x1="967.50" y1="740.00" x2="967.50" y2="755.40" stroke="#3a3a3a" stroke-width="1.5"/>
<line x1="1035.00" y1="740.00" x2="1035.00" y2="755.40" stroke="#3a3a3a" stroke-width="1.5"/>
<line x1="53.00" y1="755.40" x2="53.00" y2="771.60" stroke="#3a3a3a" stroke-width="1.5"/>
<line x1="341.00" y1="755.40" x2="341.00" y2="771.60" stroke="#3a3a3a" stroke-width="1.5"/>
<line x1="420.00" y1="755.40" x2="420.00" y2="771.60" stroke="#3a3a3a" stroke-width="1.5"/>
<line x1="482.00" y1="755.40" x2="482.00" y2="771.60" stroke="#3a3a3a" stroke-width="1.5"/>
<line x1="543.00" y1="755.40" x2="543.00" y2="771.60" stroke="#3a3a3a" stroke-width="1.5"/>
<line x1="604.00" y1="755.40" x2="604.00" y2="771.60" stroke="#3a3a3a" stroke-width="1.5"/>
<line x1="668.00" y1="755.40" x2="668.00" y2="771.60" stroke="#3a3a3a" stroke-width="1.5"/>
<line x1="732.00" y1="755.40" x2="732.00" y2="771.60" stroke="#3a3a3a" stroke-width="1.5"/>
<line x1="790.00" y1="755.40" x2="790.00" y2="771.60" stroke="#3a3a3a" stroke-width="1.5"/>
<line x1="850.00" y1="755.40" x2="850.00" y2="771.60" stroke="#3a3a3a" stroke-width="1.5"/>
<line x1="912.00" y1="755.40" x2="912.00" y2="771.60" stroke="#3a3a3a" stroke-width="1.5"/>
<line x1="967.50" y1="755.40" x2="967.50" y2="771.60" stroke="#3a3a3a" stroke-width="1.5"/>
<line x1="1035.00" y1="755.40" x2="1035.00" y2="771.60" stroke="#3a3a3a" stroke-width="1.5"/>
<line x1="53.00" y1="771.60" x2="53.00" y2="789.00" stroke="#3a3a3a" stroke-width="1.5"/>
<line x1="341.00" y1="771.60" x2="341.00" y2="789.00" stroke="#3a3a3a" stroke-width="1.5"/>
<line x1="420.00" y1="771.60" x2="420.00" y2="789.00" stroke="#3a3a3a" stroke-width="1.5"/>
<line x1="967.50" y1="771.60" x2="967.50" y2="789.00" stroke="#3a3a3a" stroke-width="1.5"/>
<line x1="1035.00" y1="771.60" x2="1035.00" y2="789.00" stroke="#3a3a3a" stroke-width="1.5"/>
<line x1="53.00" y1="789.00" x2="53.00" y2="805.70" stroke="#3a3a3a" stroke-width="1.5"/>
<line x1="341.00" y1="789.00" x2="341.00" y2="805.70" stroke="#3a3a3a" stroke-width="1.5"/>
<line x1="420.00" y1="789.00" x2="420.00" y2="805.70" stroke="#3a3a3a" stroke-width="1.5"/>
<line x1="967.50" y1="789.00" x2="967.50" y2="805.70" stroke="#3a3a3a" stroke-width="1.5"/>
<line x1="1035.00" y1="789.00" x2="1035.00" y2="805.70" stroke="#3a3a3a" stroke-width="1.5"/>
<line x1="53.00" y1="805.70" x2="53.00" y2="822.60" stroke="#3a3a3a" stroke-width="1.5"/>
<line x1="341.00" y1="805.70" x2="341.00" y2="822.60" stroke="#3a3a3a" stroke-width="1.5"/>
<line x1="420.00" y1="805.70" x2="420.00" y2="822.60" stroke="#3a3a3a" stroke-width="1.5"/>
<line x1="482.00" y1="805.70" x2="482.00" y2="822.60" stroke="#3a3a3a" stroke-width="1.5"/>
<line x1="543.00" y1="805.70" x2="543.00" y2="822.60" stroke="#3a3a3a" stroke-width="1.5"/>
<line x1="604.00" y1="805.70" x2="604.00" y2="822.60" stroke="#3a3a3a" stroke-width="1.5"/>
<line x1="668.00" y1="805.70" x2="668.00" y2="822.60" stroke="#3a3a3a" stroke-width="1.5"/>
<line x1="732.00" y1="805.70" x2="732.00" y2="822.60" stroke="#3a3a3a" stroke-width="1.5"/>
<line x1="790.00" y1="805.70" x2="790.00" y2="822.60" stroke="#3a3a3a" stroke-width="1.5"/>
<line x1="850.00" y1="805.70" x2="850.00" y2="822.60" stroke="#3a3a3a" stroke-width="1.5"/>
<line x1="912.00" y1="805.70" x2="912.00" y2="822.60" stroke="#3a3a3a" stroke-width="1.5"/>
<line x1="967.50" y1="805.70" x2="967.50" y2="822.60" stroke="#3a3a3a" stroke-width="1.5"/>
<line x1="1035.00" y1="805.70" x2="1035.00" y2="822.60" stroke="#3a3a3a" stroke-width="1.5"/>
<line x1="53.00" y1="822.60" x2="53.00" y2="840.30" stroke="#3a3a3a" stroke-width="1.5"/>
<line x1="341.00" y1="822.60" x2="341.00" y2="840.30" stroke="#3a3a3a" stroke-width="1.5"/>
<line x1="420.00" y1="822.60" x2="420.00" y2="840.30" stroke="#3a3a3a" stroke-width="1.5"/>
<line x1="967.50" y1="822.60" x2="967.50" y2="840.30" stroke="#3a3a3a" stroke-width="1.5"/>
<line x1="1035.00" y1="822.60" x2="1035.00" y2="840.30" stroke="#3a3a3a" stroke-width="1.5"/>
<line x1="53.00" y1="840.30" x2="53.00" y2="857.40" stroke="#3a3a3a" stroke-width="1.5"/>
<line x1="341.00" y1="840.30" x2="341.00" y2="857.40" stroke="#3a3a3a" stroke-width="1.5"/>
<line x1="420.00" y1="840.30" x2="420.00" y2="857.40" stroke="#3a3a3a" stroke-width="1.5"/>
<line x1="967.50" y1="840.30" x2="967.50" y2="857.40" stroke="#3a3a3a" stroke-width="1.5"/>
<line x1="1035.00" y1="840.30" x2="1035.00" y2="857.40" stroke="#3a3a3a" stroke-width="1.5"/>
<line x1="53.00" y1="857.40" x2="53.00" y2="874.10" stroke="#3a3a3a" stroke-width="1.5"/>
<line x1="341.00" y1="857.40" x2="341.00" y2="874.10" stroke="#3a3a3a" stroke-width="1.5"/>
<line x1="420.00" y1="857.40" x2="420.00" y2="874.10" stroke="#3a3a3a" stroke-width="1.5"/>
<line x1="482.00" y1="857.40" x2="482.00" y2="874.10" stroke="#3a3a3a" stroke-width="1.5"/>
<line x1="543.00" y1="857.40" x2="543.00" y2="874.10" stroke="#3a3a3a" stroke-width="1.5"/>
<line x1="604.00" y1="857.40" x2="604.00" y2="874.10" stroke="#3a3a3a" stroke-width="1.5"/>
<line x1="668.00" y1="857.40" x2="668.00" y2="874.10" stroke="#3a3a3a" stroke-width="1.5"/>
<line x1="732.00" y1="857.40" x2="732.00" y2="874.10" stroke="#3a3a3a" stroke-width="1.5"/>
<line x1="790.00" y1="857.40" x2="790.00" y2="874.10" stroke="#3a3a3a" stroke-width="1.5"/>
<line x1="850.00" y1="857.40" x2="850.00" y2="874.10" stroke="#3a3a3a" stroke-width="1.5"/>
<line x1="912.00" y1="857.40" x2="912.00" y2="874.10" stroke="#3a3a3a" stroke-width="1.5"/>
<line x1="967.50" y1="857.40" x2="967.50" y2="874.10" stroke="#3a3a3a" stroke-width="1.5"/>
<line x1="1035.00" y1="857.40" x2="1035.00" y2="874.10" stroke="#3a3a3a" stroke-width="1.5"/>
<line x1="53.00" y1="874.10" x2="53.00" y2="890.70" stroke="#3a3a3a" stroke-width="1.5"/>
<line x1="341.00" y1="874.10" x2="341.00" y2="890.70" stroke="#3a3a3a" stroke-width="1.5"/>
<line x1="420.00" y1="874.10" x2="420.00" y2="890.70" stroke="#3a3a3a" stroke-width="1.5"/>
<line x1="482.00" y1="874.10" x2="482.00" y2="890.70" stroke="#3a3a3a" stroke-width="1.5"/>
<line x1="543.00" y1="874.10" x2="543.00" y2="890.70" stroke="#3a3a3a" stroke-width="1.5"/>
<line x1="604.00" y1="874.10" x2="604.00" y2="890.70" stroke="#3a3a3a" stroke-width="1.5"/>
<line x1="668.00" y1="874.10" x2="668.00" y2="890.70" stroke="#3a3a3a" stroke-width="1.5"/>
<line x1="732.00" y1="874.10" x2="732.00" y2="890.70" stroke="#3a3a3a" stroke-width="1.5"/>
<line x1="790.00" y1="874.10" x2="790.00" y2="890.70" stroke="#3a3a3a" stroke-width="1.5"/>
<line x1="850.00" y1="874.10" x2="850.00" y2="890.70" stroke="#3a3a3a" stroke-width="1.5"/>
<line x1="912.00" y1="874.10" x2="912.00" y2="890.70" stroke="#3a3a3a" stroke-width="1.5"/>
<line x1="967.50" y1="874.10" x2="967.50" y2="890.70" stroke="#3a3a3a" stroke-width="1.5"/>
<line x1="1035.00" y1="874.10" x2="1035.00" y2="890.70" stroke="#3a3a3a" stroke-width="1.5"/>
<line x1="53.00" y1="890.70" x2="53.00" y2="908.10" stroke="#3a3a3a" stroke-width="1.5"/>
<line x1="341.00" y1="890.70" x2="341.00" y2="908.10" stroke="#3a3a3a" stroke-width="1.5"/>
<line x1="420.00" y1="890.70" x2="420.00" y2="908.10" stroke="#3a3a3a" stroke-width="1.5"/>
<line x1="967.50" y1="890.70" x2="967.50" y2="908.10" stroke="#3a3a3a" stroke-width="1.5"/>
<line x1="1035.00" y1="890.70" x2="1035.00" y2="908.10" stroke="#3a3a3a" stroke-width="1.5"/>
<line x1="53.00" y1="908.10" x2="53.00" y2="925.00" stroke="#3a3a3a" stroke-width="1.5"/>
<line x1="341.00" y1="908.10" x2="341.00" y2="925.00" stroke="#3a3a3a" stroke-width="1.5"/>
<line x1="420.00" y1="908.10" x2="420.00" y2="925.00" stroke="#3a3a3a" stroke-width="1.5"/>
<line x1="967.50" y1="908.10" x2="967.50" y2="925.00" stroke="#3a3a3a" stroke-width="1.5"/>
<line x1="1035.00" y1="908.10" x2="1035.00" y2="925.00" stroke="#3a3a3a" stroke-width="1.5"/>
<line x1="53.00" y1="925.00" x2="53.00" y2="941.60" stroke="#3a3a3a" stroke-width="1.5"/>
<line x1="341.00" y1="925.00" x2="341.00" y2="941.60" stroke="#3a3a3a" stroke-width="1.5"/>
<line x1="420.00" y1="925.00" x2="420.00" y2="941.60" stroke="#3a3a3a" stroke-width="1.5"/>
<line x1="967.50" y1="925.00" x2="967.50" y2="941.60" stroke="#3a3a3a" stroke-width="1.5"/>
<line x1="1035.00" y1="925.00" x2="1035.00" y2="941.60" stroke="#3a3a3a" stroke-width="1.5"/>
<line x1="53.00" y1="941.60" x2="53.00" y2="958.80" stroke="#3a3a3a" stroke-width="1.5"/>
<line x1="341.00" y1="941.60" x2="341.00" y2="958.80" stroke="#3a3a3a" stroke-width="1.5"/>
<line x1="420.00" y1="941.60" x2="420.00" y2="958.80" stroke="#3a3a3a" stroke-width="1.5"/>
<line x1="53.00" y1="541.00" x2="1035.00" y2="541.00" stroke="#3a3a3a" stroke-width="1.5"/>
<line x1="53.00" y1="573.70" x2="1035.00" y2="573.70" stroke="#3a3a3a" stroke-width="1.5"/>
<line x1="53.00" y1="591.20" x2="1035.00" y2="591.20" stroke="#3a3a3a" stroke-width="1.5"/>
<line x1="53.00" y1="608.50" x2="1035.00" y2="608.50" stroke="#3a3a3a" stroke-width="1.5"/>
<line x1="53.00" y1="625.40" x2="1035.00" y2="625.40" stroke="#3a3a3a" stroke-width="1.5"/>
<line x1="53.00" y1="642.00" x2="1035.00" y2="642.00" stroke="#3a3a3a" stroke-width="1.5"/>
<line x1="53.00" y1="658.80" x2="1035.00" y2="658.80" stroke="#3a3a3a" stroke-width="1.5"/>
<line x1="53.00" y1="675.70" x2="1035.00" y2="675.70" stroke="#3a3a3a" stroke-width="1.5"/>
<line x1="53.00" y1="692.60" x2="1035.00" y2="692.60" stroke="#3a3a3a" stroke-width="1.5"/>
<line x1="53.00" y1="708.10" x2="1035.00" y2="708.10" stroke="#3a3a3a" stroke-width="1.5"/>
<line x1="53.00" y1="723.50" x2="1035.00" y2="723.50" stroke="#3a3a3a" stroke-width="1.5"/>
<line x1="53.00" y1="740.00" x2="1035.00" y2="740.00" stroke="#3a3a3a" stroke-width="1.5"/>
<line x1="53.00" y1="755.40" x2="1035.00" y2="755.40" stroke="#3a3a3a" stroke-width="1.5"/>
<line x1="53.00" y1="771.60" x2="1035.00" y2="771.60" stroke="#3a3a3a" stroke-width="1.5"/>
<line x1="53.00" y1="789.00" x2="420.00" y2="789.00" stroke="#3a3a3a" stroke-width="1.5"/>
<line x1="967.50" y1="789.00" x2="1035.00" y2="789.00" stroke="#3a3a3a" stroke-width="1.5"/>
<line x1="53.00" y1="805.70" x2="1035.00" y2="805.70" stroke="#3a3a3a" stroke-width="1.5"/>
<line x1="53.00" y1="822.60" x2="1035.00" y2="822.60" stroke="#3a3a3a" stroke-width="1.5"/>
<line x1="53.00" y1="840.30" x2="420.00" y2="840.30" stroke="#3a3a3a" stroke-width="1.5"/>
<line x1="967.50" y1="840.30" x2="1035.00" y2="840.30" stroke="#3a3a3a" stroke-width="1.5"/>
<line x1="53.00" y1="857.40" x2="1035.00" y2="857.40" stroke="#3a3a3a" stroke-width="1.5"/>
<line x1="53.00" y1="874.10" x2="1035.00" y2="874.10" stroke="#3a3a3a" stroke-width="1.5"/>
<line x1="53.00" y1="890.70" x2="1035.00" y2="890.70" stroke="#3a3a3a" stroke-width="1.5"/>
<line x1="53.00" y1="908.10" x2="420.00" y2="908.10" stroke="#3a3a3a" stroke-width="1.5"/>
<line x1="967.50" y1="908.10" x2="1035.00" y2="908.10" stroke="#3a3a3a" stroke-width="1.5"/>
<line x1="53.00" y1="925.00" x2="1035.00" y2="925.00" stroke="#3a3a3a" stroke-width="1.5"/>
<line x1="53.00" y1="941.60" x2="1035.00" y2="941.60" stroke="#3a3a3a" stroke-width="1.5"/>
<line x1="53.00" y1="958.80" x2="420.00" y2="958.80" stroke="#3a3a3a" stroke-width="1.5"/>
<line x1="53.00" y1="541.00" x2="1035.00" y2="541.00" stroke="#3a3a3a" stroke-width="1.8"/>
<line x1="53.00" y1="573.70" x2="1035.00" y2="573.70" stroke="#3a3a3a" stroke-width="1.8"/>
<line x1="53.00" y1="541.00" x2="53.00" y2="958.80" stroke="#3a3a3a" stroke-width="1.8"/>
<line x1="1035.00" y1="541.00" x2="1035.00" y2="992.50" stroke="#3a3a3a" stroke-width="1.8"/>
<line x1="53.00" y1="958.80" x2="420.00" y2="958.80" stroke="#3a3a3a" stroke-width="1.8"/>
<line x1="850.00" y1="941.60" x2="1035.00" y2="941.60" stroke="#3a3a3a" stroke-width="1.5"/>
<line x1="850.00" y1="958.80" x2="1035.00" y2="958.80" stroke="#3a3a3a" stroke-width="1.5"/>
<line x1="850.00" y1="976.00" x2="1035.00" y2="976.00" stroke="#3a3a3a" stroke-width="1.5"/>
<line x1="732.00" y1="992.50" x2="1035.00" y2="992.50" stroke="#3a3a3a" stroke-width="1.5"/>
<line x1="850.00" y1="941.60" x2="850.00" y2="976.00" stroke="#3a3a3a" stroke-width="1.5"/>
<line x1="967.50" y1="941.60" x2="967.50" y2="976.00" stroke="#3a3a3a" stroke-width="1.5"/>
<line x1="1035.00" y1="941.60" x2="1035.00" y2="976.00" stroke="#3a3a3a" stroke-width="1.5"/>
<line x1="732.00" y1="976.00" x2="732.00" y2="992.50" stroke="#3a3a3a" stroke-width="1.5"/>
<line x1="967.50" y1="976.00" x2="967.50" y2="992.50" stroke="#3a3a3a" stroke-width="1.5"/>
<line x1="1035.00" y1="976.00" x2="1035.00" y2="992.50" stroke="#3a3a3a" stroke-width="1.5"/>
<rect x="52.60" y="1009.90" width="288.80" height="33.30" fill="#C4BD97"/>
<rect x="340.60" y="1009.90" width="509.80" height="33.30" fill="#D9D9D9"/>
<rect x="849.60" y="1009.90" width="185.80" height="33.30" fill="#CCFFCC"/>
<rect x="849.60" y="1042.40" width="185.80" height="17.20" fill="#92CDDC"/>
<line x1="53.00" y1="1010.30" x2="1035.00" y2="1010.30" stroke="#3a3a3a" stroke-width="1.8"/>
<line x1="53.00" y1="1042.80" x2="1035.00" y2="1042.80" stroke="#3a3a3a" stroke-width="1.8"/>
<line x1="341.00" y1="1026.00" x2="1035.00" y2="1026.00" stroke="#3a3a3a" stroke-width="1.5"/>
<line x1="850.00" y1="1059.20" x2="1035.00" y2="1059.20" stroke="#3a3a3a" stroke-width="1.5"/>
<line x1="53.00" y1="1010.30" x2="53.00" y2="1042.80" stroke="#3a3a3a" stroke-width="1.5"/>
<line x1="341.00" y1="1010.30" x2="341.00" y2="1042.80" stroke="#3a3a3a" stroke-width="1.5"/>
<line x1="420.00" y1="1010.30" x2="420.00" y2="1042.80" stroke="#3a3a3a" stroke-width="1.5"/>
<line x1="850.00" y1="1010.30" x2="850.00" y2="1042.80" stroke="#3a3a3a" stroke-width="1.5"/>
<line x1="967.50" y1="1010.30" x2="967.50" y2="1042.80" stroke="#3a3a3a" stroke-width="1.5"/>
<line x1="1035.00" y1="1010.30" x2="1035.00" y2="1042.80" stroke="#3a3a3a" stroke-width="1.5"/>
<line x1="850.00" y1="1042.80" x2="850.00" y2="1059.20" stroke="#3a3a3a" stroke-width="1.5"/>
<line x1="967.50" y1="1042.80" x2="967.50" y2="1059.20" stroke="#3a3a3a" stroke-width="1.5"/>
<line x1="1035.00" y1="1042.80" x2="1035.00" y2="1059.20" stroke="#3a3a3a" stroke-width="1.5"/>
<text x="197.10" y="1023.20" font-size="10.7" font-weight="bold" text-anchor="middle" letter-spacing="0.06" fill="#000" font-family='"Liberation Sans", sans-serif'>GRAND TOTAL INCLUDES ATC (ALTERNATIVE TO</text>
<text x="197.00" y="1036.80" font-size="10.7" font-weight="bold" text-anchor="middle" fill="#000" font-family='"Liberation Sans", sans-serif'>CUSTODY), FIRE CAMP AND STATION WORKERS.</text>
<text x="908.30" y="1020.70" font-size="8.4" font-weight="bold" text-anchor="middle" fill="#000" font-family='"Liberation Sans", sans-serif'>MALE ATC TOTAL</text>
<text x="909.10" y="1037.70" font-size="8.4" font-weight="bold" text-anchor="middle" fill="#000" font-family='"Liberation Sans", sans-serif'>FEMALE ATC TOTAL</text>
<text x="1031.50" y="1023.60" font-size="13.5" font-weight="bold" text-anchor="end" fill="#000" font-family='"Liberation Sans", sans-serif'>111</text>
<text x="1031.50" y="1039.50" font-size="13.5" font-weight="bold" text-anchor="end" fill="#000" font-family='"Liberation Sans", sans-serif'>5</text>
<text x="908.10" y="1056.00" font-size="13.55" font-weight="bold" text-anchor="middle" fill="#000" font-family='"Liberation Sans", sans-serif'>GRAND TOTAL</text>
<text x="1031.50" y="1056.70" font-size="13.4" font-weight="bold" text-anchor="end" fill="#000" font-family='"Liberation Sans", sans-serif'>12,352</text>
<text x="55.50" y="1085.80" font-size="8.45" font-weight="normal" font-style="italic" text-anchor="start" letter-spacing="0.03" fill="#000" font-family='"Liberation Sans", sans-serif' xml:space="preserve">Fire Camp Program Count: Inmates housed at a CDCR Fire Camp.</text>
<text x="55.50" y="1095.90" font-size="8.45" font-weight="normal" font-style="italic" text-anchor="start" letter-spacing="0.03" fill="#000" font-family='"Liberation Sans", sans-serif' xml:space="preserve">Fire Camp Training Count: Inmates housed at PDC East.</text>
<text x="55.50" y="1106.30" font-size="8.45" font-weight="normal" font-style="italic" text-anchor="start" letter-spacing="0.03" fill="#000" font-family='"Liberation Sans", sans-serif' xml:space="preserve">BSCC Rated Capacity: Inspection date 2020</text>
<text x="55.50" y="1116.50" font-size="8.45" font-weight="normal" font-style="italic" text-anchor="start" letter-spacing="0.03" fill="#000" font-family='"Liberation Sans", sans-serif' xml:space="preserve">*NR: Capacity not rated by BSCC</text>
<text x="55.50" y="1126.60" font-size="8.45" font-weight="normal" font-style="italic" text-anchor="start" letter-spacing="0.03" fill="#000" font-family='"Liberation Sans", sans-serif' xml:space="preserve">Facility Capacity: Total beds reported by each facility.</text>
<text x="55.50" y="1139.40" font-size="8.45" font-weight="normal" font-style="italic" text-anchor="start" letter-spacing="0.03" fill="#000" font-family='"Liberation Sans", sans-serif' xml:space="preserve">Overflow Capacity: Total dayroom beds added to each facility.</text>
<text x="55.50" y="1149.30" font-size="8.45" font-weight="normal" font-style="italic" text-anchor="start" letter-spacing="0.03" fill="#000" font-family='"Liberation Sans", sans-serif' xml:space="preserve">Adjusted Capacity: Total number of Facility Capacity + Overflow Capacity</text>
<text x="55.50" y="1159.30" font-size="8.45" font-weight="normal" font-style="italic" text-anchor="start" letter-spacing="0.055" fill="#000" font-family='"Liberation Sans", sans-serif' xml:space="preserve">Available &quot;RESTRICTED&quot; Beds: Inmate Workers, Medical, Discipline, School, Child Sex Crimes,  LGBT, K-10, K-1, SVP, Etc.</text>
<text x="55.50" y="1169.40" font-size="8.45" font-weight="normal" font-style="italic" text-anchor="start" letter-spacing="0.03" fill="#000" font-family='"Liberation Sans", sans-serif' xml:space="preserve">CRDF Reception Center BSCC: Includes Module 1400 - Receiving Housing</text>
<text x="55.50" y="1180.20" font-size="8.35" font-weight="normal" text-anchor="start" letter-spacing="0.02" fill="#000" font-family='"Liberation Sans", sans-serif' xml:space="preserve">As of 5/19/15 the Division Grand Total includes CBAC/CTU and Fire Camp</text>
<text x="55.50" y="1189.40" font-size="8.35" font-weight="normal" text-anchor="start" letter-spacing="0.02" fill="#000" font-family='"Liberation Sans", sans-serif' xml:space="preserve">California Code of Regulations Title 15. Crime Prevention and Corrections 3274. Inmate Count (a) “A physical count of all inmates shall be taken.”</text>
<text x="55.50" y="1218.80" font-size="8.35" font-weight="normal" text-anchor="start" letter-spacing="0.02" fill="#000" font-family='"Liberation Sans", sans-serif' xml:space="preserve">This summary data document was created by the Los Angeles County Sheriff’s Department as an internal population management tool.</text>
<text x="55.50" y="1228.60" font-size="8.35" font-weight="normal" text-anchor="start" letter-spacing="0.02" fill="#000" font-family='"Liberation Sans", sans-serif' xml:space="preserve">The information contained within this report is deemed accurate only as of the generation date and time due to the constant, dynamic change of the population.</text>
<text x="55.50" y="1239.30" font-size="8.35" font-weight="normal" text-anchor="start" letter-spacing="0.02" fill="#000" font-family='"Liberation Sans", sans-serif' xml:space="preserve">The Department makes no warranties, express or implied, as to the fitness of this information for any purpose, or with respect to results obtained  by individuals</text>
<text x="55.50" y="1249.60" font-size="8.35" font-weight="normal" text-anchor="start" letter-spacing="0.02" fill="#000" font-family='"Liberation Sans", sans-serif' xml:space="preserve">or other entities resulting from the use of any such information.</text>
<text x="55.50" y="1260.10" font-size="8.35" font-weight="normal" text-anchor="start" letter-spacing="0.02" fill="#000" font-family='"Liberation Sans", sans-serif' xml:space="preserve">This report has been compiled on a best efforts basis, and, the information is subject to daily change.</text>
</svg>
</body></html>
